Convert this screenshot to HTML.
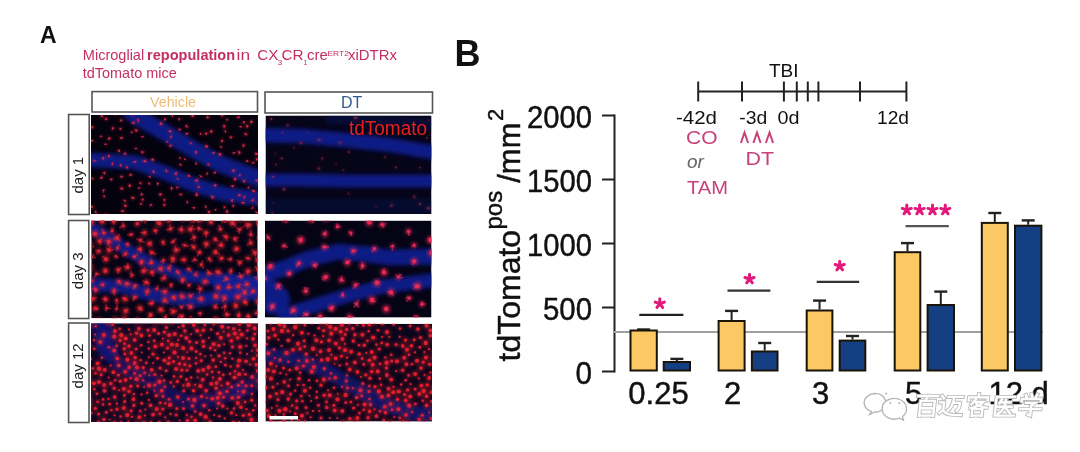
<!DOCTYPE html><html><head><meta charset="utf-8"><style>
html,body{margin:0;padding:0;background:#fff;width:1080px;height:452px;overflow:hidden}
svg{position:absolute;left:0;top:0;font-family:"Liberation Sans",sans-serif;filter:blur(0.35px)}
</style></head><body><svg width="1080" height="452" viewBox="0 0 1080 452"><defs><filter id="bl" filterUnits="userSpaceOnUse" x="0" y="80" width="460" height="372"><feGaussianBlur stdDeviation="2.2"/></filter><filter id="bs" filterUnits="userSpaceOnUse" x="0" y="80" width="460" height="372"><feGaussianBlur stdDeviation="0.7"/></filter><filter id="bh" filterUnits="userSpaceOnUse" x="0" y="80" width="460" height="372"><feGaussianBlur stdDeviation="1.8"/></filter><clipPath id="cv1"><rect x="91" y="115" width="167" height="99"/></clipPath><clipPath id="cd1"><rect x="265.5" y="115.5" width="166" height="98.5"/></clipPath><clipPath id="cv3"><rect x="91.3" y="220.6" width="166.4" height="97.7"/></clipPath><clipPath id="cd3"><rect x="265" y="220.6" width="166.5" height="97"/></clipPath><clipPath id="cv12"><rect x="91" y="323.3" width="167" height="98.7"/></clipPath><clipPath id="cd12"><rect x="265.5" y="323.8" width="166.5" height="97.7"/></clipPath></defs><g clip-path="url(#cv1)"><rect x="91" y="115" width="167" height="99" fill="#040208"/><rect x="91" y="115" width="167" height="99" fill="#1a20a0" opacity="0.04"/><path d="M128.0,108.0 135.0,115.5 165.4,133.0 193.5,149.5 219.3,163.6 262.0,180.0" fill="none" stroke="#121c98" stroke-width="17.0" stroke-opacity="0.855" stroke-linecap="round" stroke-linejoin="round" filter="url(#bl)"/><path d="M85.0,160.0 91.5,160.0 135.0,162.4 165.4,173.0 193.5,184.7 224.0,194.0 262.0,199.0" fill="none" stroke="#121c98" stroke-width="14.45" stroke-opacity="0.855" stroke-linecap="round" stroke-linejoin="round" filter="url(#bl)"/><g fill="#e02848" fill-opacity="0.35" filter="url(#bh)"><circle cx="166.4" cy="170.7" r="2.0"/><circle cx="247.0" cy="161.0" r="1.8"/><circle cx="175.8" cy="173.5" r="2.2"/><circle cx="120.6" cy="165.7" r="1.8"/><circle cx="196.7" cy="194.7" r="2.4"/><circle cx="105.1" cy="144.3" r="1.4"/><circle cx="104.5" cy="196.4" r="1.6"/><circle cx="207.6" cy="117.3" r="2.2"/><circle cx="257.0" cy="212.4" r="1.6"/><circle cx="200.8" cy="176.4" r="1.6"/><circle cx="115.9" cy="114.5" r="1.6"/><circle cx="179.4" cy="119.1" r="1.8"/><circle cx="121.5" cy="137.9" r="2.2"/><circle cx="94.1" cy="160.8" r="1.6"/><circle cx="164.3" cy="199.8" r="1.8"/><circle cx="177.8" cy="179.0" r="1.6"/><circle cx="167.2" cy="141.7" r="1.6"/><circle cx="232.7" cy="185.9" r="1.8"/><circle cx="142.9" cy="136.7" r="1.6"/><circle cx="138.4" cy="120.2" r="1.8"/><circle cx="220.0" cy="154.2" r="2.4"/><circle cx="233.8" cy="152.8" r="1.6"/><circle cx="252.8" cy="200.3" r="2.2"/><circle cx="89.1" cy="134.6" r="1.8"/><circle cx="256.6" cy="153.9" r="2.4"/><circle cx="101.5" cy="177.8" r="2.0"/><circle cx="222.1" cy="140.8" r="2.2"/><circle cx="253.9" cy="191.1" r="2.2"/><circle cx="109.2" cy="138.4" r="2.4"/><circle cx="106.3" cy="119.2" r="2.0"/><circle cx="225.3" cy="131.3" r="1.8"/><circle cx="184.6" cy="159.1" r="1.4"/><circle cx="121.6" cy="188.4" r="2.4"/><circle cx="111.4" cy="179.3" r="1.8"/><circle cx="108.9" cy="156.3" r="2.0"/><circle cx="141.0" cy="204.1" r="1.8"/><circle cx="125.0" cy="153.6" r="2.2"/><circle cx="235.1" cy="179.1" r="2.4"/><circle cx="106.2" cy="214.9" r="2.0"/><circle cx="221.1" cy="146.9" r="1.6"/><circle cx="104.4" cy="173.0" r="2.0"/><circle cx="130.6" cy="174.9" r="2.0"/><circle cx="152.6" cy="159.7" r="2.2"/><circle cx="253.0" cy="162.8" r="1.8"/><circle cx="187.3" cy="202.3" r="1.8"/><circle cx="120.3" cy="128.9" r="1.8"/><circle cx="244.3" cy="197.2" r="1.6"/><circle cx="131.7" cy="132.5" r="1.6"/><circle cx="215.4" cy="209.9" r="1.6"/><circle cx="122.6" cy="210.9" r="2.0"/><circle cx="239.9" cy="175.2" r="1.6"/><circle cx="161.1" cy="123.7" r="2.4"/><circle cx="95.6" cy="212.2" r="1.6"/><circle cx="129.8" cy="185.6" r="2.4"/><circle cx="132.9" cy="197.8" r="2.4"/><circle cx="191.0" cy="143.2" r="1.6"/><circle cx="100.8" cy="136.5" r="1.6"/><circle cx="245.9" cy="134.0" r="2.2"/><circle cx="91.8" cy="140.7" r="2.0"/><circle cx="165.2" cy="119.2" r="1.8"/><circle cx="119.1" cy="151.0" r="2.0"/><circle cx="186.8" cy="126.6" r="2.0"/><circle cx="150.9" cy="204.8" r="1.8"/><circle cx="256.7" cy="180.7" r="1.6"/><circle cx="207.2" cy="173.2" r="1.6"/><circle cx="92.1" cy="206.8" r="2.2"/><circle cx="208.9" cy="212.2" r="2.2"/><circle cx="92.6" cy="178.5" r="1.8"/><circle cx="171.5" cy="188.2" r="2.0"/><circle cx="143.5" cy="215.9" r="1.8"/><circle cx="215.0" cy="185.5" r="2.2"/><circle cx="224.6" cy="207.2" r="1.6"/><circle cx="149.2" cy="183.6" r="1.8"/><circle cx="243.0" cy="202.7" r="2.0"/><circle cx="160.3" cy="194.4" r="2.4"/><circle cx="195.9" cy="152.4" r="2.0"/><circle cx="188.6" cy="175.7" r="2.0"/><circle cx="258.9" cy="203.6" r="2.2"/><circle cx="213.5" cy="153.0" r="1.8"/><circle cx="214.7" cy="172.8" r="1.8"/><circle cx="103.3" cy="190.3" r="1.6"/><circle cx="171.2" cy="136.7" r="1.8"/><circle cx="208.4" cy="164.2" r="1.6"/><circle cx="194.1" cy="207.8" r="1.8"/><circle cx="132.7" cy="114.2" r="2.2"/><circle cx="140.5" cy="182.8" r="1.8"/><circle cx="243.9" cy="181.0" r="2.2"/><circle cx="164.6" cy="204.8" r="2.0"/><circle cx="239.5" cy="152.6" r="2.2"/><circle cx="112.3" cy="164.1" r="1.6"/><circle cx="232.1" cy="200.4" r="2.0"/><circle cx="136.3" cy="130.4" r="2.4"/><circle cx="196.0" cy="163.9" r="1.4"/><circle cx="142.9" cy="199.4" r="1.6"/><circle cx="256.9" cy="159.6" r="2.0"/><circle cx="101.8" cy="116.2" r="2.0"/><circle cx="238.3" cy="117.3" r="2.0"/><circle cx="141.8" cy="194.5" r="1.8"/><circle cx="92.3" cy="127.0" r="2.0"/><circle cx="230.9" cy="137.5" r="1.8"/><circle cx="196.7" cy="180.5" r="2.4"/><circle cx="227.1" cy="211.7" r="2.2"/><circle cx="206.0" cy="133.5" r="2.0"/><circle cx="170.2" cy="131.4" r="2.2"/><circle cx="211.1" cy="131.4" r="2.4"/><circle cx="135.6" cy="148.6" r="1.6"/><circle cx="244.0" cy="122.0" r="1.8"/><circle cx="248.5" cy="187.4" r="1.6"/><circle cx="153.4" cy="171.6" r="2.0"/><circle cx="239.4" cy="195.1" r="2.2"/><circle cx="200.4" cy="134.1" r="1.6"/><circle cx="212.5" cy="197.3" r="2.2"/><circle cx="198.7" cy="186.9" r="2.0"/><circle cx="125.5" cy="205.7" r="2.4"/><circle cx="180.8" cy="194.5" r="2.0"/><circle cx="103.2" cy="158.4" r="2.0"/><circle cx="172.4" cy="115.9" r="1.6"/><circle cx="227.4" cy="119.6" r="1.6"/><circle cx="113.0" cy="128.3" r="2.2"/><circle cx="177.3" cy="187.5" r="1.4"/><circle cx="251.3" cy="121.9" r="2.4"/><circle cx="126.9" cy="167.2" r="2.0"/><circle cx="138.6" cy="188.1" r="1.6"/><circle cx="233.3" cy="170.7" r="2.2"/><circle cx="142.3" cy="152.3" r="2.2"/><circle cx="233.5" cy="205.8" r="1.6"/><circle cx="124.6" cy="200.6" r="1.8"/><circle cx="187.0" cy="133.7" r="1.8"/><circle cx="180.6" cy="164.8" r="1.8"/><circle cx="192.5" cy="115.9" r="2.4"/><circle cx="252.6" cy="208.1" r="1.6"/><circle cx="135.0" cy="161.7" r="1.8"/><circle cx="170.5" cy="145.7" r="2.2"/><circle cx="121.7" cy="176.6" r="2.2"/><circle cx="247.2" cy="126.3" r="2.2"/><circle cx="222.3" cy="115.3" r="2.2"/><circle cx="206.5" cy="146.2" r="2.4"/><circle cx="149.8" cy="176.8" r="1.8"/><circle cx="179.7" cy="158.0" r="1.6"/><circle cx="179.5" cy="129.5" r="2.0"/><circle cx="243.4" cy="145.5" r="2.0"/><circle cx="126.3" cy="215.8" r="1.8"/><circle cx="240.8" cy="126.8" r="1.6"/><circle cx="133.4" cy="123.0" r="2.2"/><circle cx="224.1" cy="126.0" r="2.2"/><circle cx="157.9" cy="183.6" r="1.8"/><circle cx="205.7" cy="206.9" r="1.8"/><circle cx="121.3" cy="120.3" r="2.2"/><circle cx="232.7" cy="215.0" r="1.4"/><circle cx="144.9" cy="161.1" r="2.4"/></g><path d="M166.4,170.7l0.3,1.3M166.4,170.7l-0.6,-0.7M166.4,170.7l0.4,1.3M247.0,161.0l-0.9,0.6M247.0,161.0l0.8,1.3M247.0,161.0l2.0,0.2M175.8,173.5l1.5,-1.4M175.8,173.5l1.5,-0.6M175.8,173.5l0.6,1.5M175.8,173.5l-1.0,1.6M120.6,165.7l-0.1,-1.9M120.6,165.7l0.6,-1.3M196.7,194.7l-0.6,-1.8M196.7,194.7l0.1,-1.4M196.7,194.7l-0.2,-1.0M196.7,194.7l-0.8,1.3M105.1,144.3l2.0,-0.1M105.1,144.3l1.2,0.4M105.1,144.3l1.2,-0.3M104.5,196.4l-1.4,-0.7M104.5,196.4l-1.7,1.4M104.5,196.4l-1.1,-1.4M207.6,117.3l1.7,0.2M207.6,117.3l-0.1,-1.2M207.6,117.3l-0.8,0.6M207.6,117.3l0.5,1.3M257.0,212.4l-0.2,1.3M257.0,212.4l-1.4,-0.4M257.0,212.4l-1.9,-0.3M200.8,176.4l0.4,-0.9M200.8,176.4l-1.5,-1.1M200.8,176.4l2.0,0.6M115.9,114.5l1.9,-0.4M115.9,114.5l-1.6,-0.4M115.9,114.5l-1.4,0.7M179.4,119.1l-1.1,-0.8M179.4,119.1l-0.4,1.7M179.4,119.1l-1.2,-0.5M121.5,137.9l1.8,0.3M121.5,137.9l-1.5,-0.9M121.5,137.9l-1.5,1.0M94.1,160.8l-0.0,-1.0M94.1,160.8l2.1,-0.1M94.1,160.8l1.8,0.9M164.3,199.8l-0.0,1.9M164.3,199.8l1.0,0.3M164.3,199.8l0.8,-1.9M177.8,179.0l-0.8,-0.6M177.8,179.0l-1.0,-1.0M167.2,141.7l-0.7,0.9M167.2,141.7l-0.7,0.8M232.7,185.9l-0.1,1.6M232.7,185.9l-1.6,0.9M232.7,185.9l-2.1,-0.4M232.7,185.9l1.7,-0.5M142.9,136.7l-1.3,-0.0M142.9,136.7l-2.0,-0.1M138.4,120.2l-0.6,-1.5M138.4,120.2l-1.4,-0.9M138.4,120.2l0.0,-1.1M138.4,120.2l0.0,2.1M220.0,154.2l0.9,0.2M220.0,154.2l-0.2,1.4M220.0,154.2l-0.7,-0.7M220.0,154.2l-1.0,-0.3M233.8,152.8l0.6,1.0M233.8,152.8l1.5,-0.2M233.8,152.8l-0.8,1.1M233.8,152.8l-1.1,0.0M252.8,200.3l-1.8,0.6M252.8,200.3l1.0,-1.6M89.1,134.6l-0.1,1.9M89.1,134.6l-1.2,1.3M89.1,134.6l1.3,-0.1M89.1,134.6l-1.8,-0.6M256.6,153.9l-0.9,-1.3M256.6,153.9l-1.3,0.3M256.6,153.9l-1.4,-0.4M101.5,177.8l-1.9,0.4M101.5,177.8l1.3,0.1M101.5,177.8l1.4,-0.9M101.5,177.8l-0.5,-1.4M222.1,140.8l-0.2,1.1M222.1,140.8l-1.1,1.4M222.1,140.8l-0.7,0.8M253.9,191.1l-1.7,-1.1M253.9,191.1l-0.5,-1.2M253.9,191.1l-2.1,-0.4M253.9,191.1l-1.1,0.3M109.2,138.4l1.0,-0.7M109.2,138.4l-0.9,1.0M109.2,138.4l-0.9,1.1M109.2,138.4l-0.9,0.7M106.3,119.2l-1.9,-0.5M106.3,119.2l-1.0,-0.4M106.3,119.2l0.1,-2.0M225.3,131.3l0.2,1.0M225.3,131.3l0.7,1.1M184.6,159.1l1.5,0.6M184.6,159.1l0.2,-1.0M184.6,159.1l1.6,0.9M121.6,188.4l1.7,0.3M121.6,188.4l1.6,1.1M111.4,179.3l0.3,1.8M111.4,179.3l-1.8,-0.3M111.4,179.3l-1.0,0.8M111.4,179.3l1.7,-0.3M108.9,156.3l0.3,-0.9M108.9,156.3l-0.7,-0.6M108.9,156.3l0.1,-2.1M108.9,156.3l-0.5,0.7M141.0,204.1l1.6,-1.4M141.0,204.1l-1.0,-1.2M125.0,153.6l-1.3,0.7M125.0,153.6l1.1,1.5M235.1,179.1l-0.5,-1.2M235.1,179.1l-1.2,1.0M235.1,179.1l-0.3,2.0M106.2,214.9l1.3,1.1M106.2,214.9l0.2,-1.1M106.2,214.9l1.4,0.6M106.2,214.9l-1.8,-1.0M221.1,146.9l0.4,1.3M221.1,146.9l-1.4,-0.9M104.4,173.0l0.2,1.1M104.4,173.0l-0.2,1.1M104.4,173.0l0.1,-1.3M104.4,173.0l-1.8,-0.6M130.6,174.9l-1.4,0.1M130.6,174.9l1.7,-0.5M130.6,174.9l0.1,-1.0M152.6,159.7l2.0,0.6M152.6,159.7l0.4,-1.3M152.6,159.7l-1.5,-0.3M253.0,162.8l-0.7,-1.0M253.0,162.8l1.5,0.1M187.3,202.3l-0.4,-1.6M187.3,202.3l0.6,0.9M120.3,128.9l1.6,-1.0M120.3,128.9l1.2,1.3M120.3,128.9l-1.1,-1.1M244.3,197.2l0.1,-0.9M244.3,197.2l0.9,-1.8M244.3,197.2l0.4,-0.9M244.3,197.2l-0.2,1.8M131.7,132.5l-0.3,-0.9M131.7,132.5l-0.0,-1.6M131.7,132.5l-0.9,-0.0M215.4,209.9l0.9,-0.5M215.4,209.9l0.5,-1.0M122.6,210.9l-2.1,0.1M122.6,210.9l1.3,-0.3M122.6,210.9l-1.3,0.9M122.6,210.9l1.7,-0.0M239.9,175.2l-0.4,-1.0M239.9,175.2l-1.2,0.9M161.1,123.7l-0.5,-0.8M161.1,123.7l-1.3,1.3M95.6,212.2l1.4,1.2M95.6,212.2l1.2,-1.5M95.6,212.2l-0.4,-2.0M95.6,212.2l1.0,1.4M129.8,185.6l-0.4,1.3M129.8,185.6l-1.4,1.1M129.8,185.6l-0.0,1.2M129.8,185.6l-0.2,-1.3M132.9,197.8l-1.7,0.3M132.9,197.8l-1.3,0.5M132.9,197.8l1.4,1.0M132.9,197.8l1.1,1.2M191.0,143.2l-1.6,1.1M191.0,143.2l-0.8,-0.6M100.8,136.5l1.4,-0.1M100.8,136.5l0.2,-1.3M245.9,134.0l0.7,0.9M245.9,134.0l1.1,1.4M245.9,134.0l-2.0,0.2M245.9,134.0l-1.3,-1.3M91.8,140.7l1.9,-0.2M91.8,140.7l-0.9,-1.4M91.8,140.7l1.3,0.2M165.2,119.2l-1.5,0.6M165.2,119.2l0.4,1.3M165.2,119.2l-0.3,1.0M165.2,119.2l-0.3,-1.2M119.1,151.0l-1.3,-0.4M119.1,151.0l-1.1,-0.0M119.1,151.0l-0.5,-2.1M186.8,126.6l-0.6,-2.0M186.8,126.6l-0.9,-0.4M186.8,126.6l-1.0,-1.6M186.8,126.6l1.0,1.1M150.9,204.8l-1.0,1.8M150.9,204.8l-1.0,1.1M150.9,204.8l1.5,1.5M256.7,180.7l-1.5,-0.4M256.7,180.7l-1.1,-0.5M256.7,180.7l1.8,-1.2M256.7,180.7l0.7,-1.5M207.2,173.2l-0.5,2.0M207.2,173.2l0.1,1.6M92.1,206.8l-1.6,-1.1M92.1,206.8l-1.4,0.4M208.9,212.2l1.2,1.4M208.9,212.2l1.2,-1.7M208.9,212.2l-1.3,-1.1M208.9,212.2l0.1,-1.1M92.6,178.5l0.9,1.1M92.6,178.5l-1.0,-0.5M171.5,188.2l0.1,2.1M171.5,188.2l1.8,0.6M171.5,188.2l-0.3,-1.9M143.5,215.9l-1.2,-0.9M143.5,215.9l-1.4,0.9M143.5,215.9l-0.7,-1.7M215.0,185.5l1.1,-1.0M215.0,185.5l1.5,-1.0M215.0,185.5l0.5,-0.9M224.6,207.2l-0.8,1.4M224.6,207.2l-0.8,0.4M224.6,207.2l1.1,-0.7M224.6,207.2l-1.1,-1.0M149.2,183.6l0.0,-1.3M149.2,183.6l-0.8,-0.5M149.2,183.6l1.0,1.0M243.0,202.7l1.5,-0.3M243.0,202.7l1.6,1.3M243.0,202.7l-1.7,-0.5M160.3,194.4l1.8,-0.0M160.3,194.4l0.9,-1.0M195.9,152.4l0.4,-1.1M195.9,152.4l-0.0,-1.6M195.9,152.4l0.8,-0.6M195.9,152.4l0.3,-1.0M188.6,175.7l1.2,0.0M188.6,175.7l-0.4,1.2M188.6,175.7l1.9,0.8M258.9,203.6l1.1,1.4M258.9,203.6l0.2,1.3M258.9,203.6l-1.2,0.4M213.5,153.0l2.0,-0.9M213.5,153.0l-1.1,0.2M214.7,172.8l0.9,-0.7M214.7,172.8l0.7,-1.1M214.7,172.8l-1.1,0.2M214.7,172.8l1.6,-1.5M103.3,190.3l0.2,2.1M103.3,190.3l1.7,-0.3M103.3,190.3l-0.7,1.8M103.3,190.3l1.2,-0.3M171.2,136.7l-1.1,1.8M171.2,136.7l0.3,-1.4M208.4,164.2l1.3,1.2M208.4,164.2l-0.2,1.8M208.4,164.2l-1.3,-0.0M194.1,207.8l-1.0,-0.2M194.1,207.8l-2.1,-0.2M194.1,207.8l0.9,-0.7M194.1,207.8l0.2,1.1M132.7,114.2l1.4,-0.2M132.7,114.2l-1.5,-0.3M132.7,114.2l1.6,0.5M140.5,182.8l-1.4,0.7M140.5,182.8l1.1,1.8M140.5,182.8l0.4,1.0M243.9,181.0l0.8,1.9M243.9,181.0l0.9,-0.1M164.6,204.8l-1.6,1.4M164.6,204.8l-1.1,0.0M164.6,204.8l-1.6,-0.6M164.6,204.8l-1.1,1.3M239.5,152.6l-0.5,1.9M239.5,152.6l-1.4,-1.6M239.5,152.6l-0.1,-1.6M239.5,152.6l-1.6,-1.0M112.3,164.1l0.1,1.4M112.3,164.1l0.3,-1.9M112.3,164.1l0.3,-1.2M232.1,200.4l1.0,-1.3M232.1,200.4l-0.1,1.2M136.3,130.4l-1.8,-0.9M136.3,130.4l0.5,1.0M196.0,163.9l0.5,-1.4M196.0,163.9l-0.3,-2.0M196.0,163.9l1.0,0.2M142.9,199.4l-1.8,-0.5M142.9,199.4l0.1,1.1M142.9,199.4l-0.4,0.9M142.9,199.4l-0.7,1.5M256.9,159.6l0.1,-1.5M256.9,159.6l-0.9,-1.2M256.9,159.6l-0.9,0.8M101.8,116.2l0.9,-1.7M101.8,116.2l1.3,0.5M101.8,116.2l-0.8,0.9M101.8,116.2l0.9,-0.2M238.3,117.3l1.1,-0.1M238.3,117.3l-1.8,0.5M238.3,117.3l1.2,0.3M238.3,117.3l0.8,-0.7M141.8,194.5l-2.0,0.4M141.8,194.5l1.7,-0.3M141.8,194.5l-0.4,-2.1M92.3,127.0l-0.0,1.6M92.3,127.0l0.1,1.5M92.3,127.0l1.2,-0.6M230.9,137.5l0.2,1.1M230.9,137.5l-1.9,-1.1M230.9,137.5l-0.1,-1.6M230.9,137.5l1.7,-1.1M196.7,180.5l-1.4,0.3M196.7,180.5l0.8,-1.2M227.1,211.7l-1.1,0.6M227.1,211.7l0.5,-1.8M206.0,133.5l0.3,1.5M206.0,133.5l-0.5,1.4M206.0,133.5l1.8,-0.1M170.2,131.4l-1.4,-0.4M170.2,131.4l1.2,0.4M211.1,131.4l1.1,0.1M211.1,131.4l-0.1,1.4M211.1,131.4l1.6,-0.8M211.1,131.4l-0.2,1.3M135.6,148.6l0.8,0.9M135.6,148.6l0.6,-0.9M135.6,148.6l2.0,-0.0M244.0,122.0l-0.9,1.7M244.0,122.0l-1.0,-0.1M244.0,122.0l-0.9,0.7M248.5,187.4l-1.1,-0.1M248.5,187.4l0.4,1.4M153.4,171.6l1.2,1.4M153.4,171.6l-0.1,1.8M153.4,171.6l-0.5,-0.9M153.4,171.6l0.4,1.2M239.4,195.1l1.0,1.2M239.4,195.1l-0.6,0.8M239.4,195.1l-1.1,1.2M200.4,134.1l-0.0,-1.5M200.4,134.1l1.9,0.1M212.5,197.3l-1.0,-1.8M212.5,197.3l0.4,1.7M212.5,197.3l-1.1,-1.8M212.5,197.3l0.8,-0.9M198.7,186.9l0.3,-1.0M198.7,186.9l-1.5,0.1M125.5,205.7l-1.3,0.0M125.5,205.7l0.8,1.2M125.5,205.7l-1.1,0.2M180.8,194.5l-1.8,-0.2M180.8,194.5l1.6,-1.1M103.2,158.4l-0.5,-1.5M103.2,158.4l-0.3,-0.9M103.2,158.4l-1.1,0.9M172.4,115.9l-0.2,1.4M172.4,115.9l0.7,-1.0M172.4,115.9l-0.4,-2.0M227.4,119.6l-1.2,1.7M227.4,119.6l-1.1,-0.5M113.0,128.3l-0.9,-1.1M113.0,128.3l-1.1,1.7M177.3,187.5l1.8,-0.7M177.3,187.5l-1.2,-1.2M177.3,187.5l-1.2,0.8M177.3,187.5l-0.3,1.9M251.3,121.9l1.4,-0.3M251.3,121.9l0.6,-1.7M251.3,121.9l-0.2,1.5M126.9,167.2l0.7,0.9M126.9,167.2l0.2,1.7M138.6,188.1l1.9,-1.0M138.6,188.1l1.6,0.0M233.3,170.7l1.7,0.9M233.3,170.7l1.3,-1.2M233.3,170.7l0.4,-1.2M233.3,170.7l0.7,0.6M142.3,152.3l-0.6,-1.7M142.3,152.3l1.9,-0.4M233.5,205.8l-0.7,-1.8M233.5,205.8l-0.4,1.4M233.5,205.8l-1.2,1.3M233.5,205.8l-1.7,0.0M124.6,200.6l0.7,1.4M124.6,200.6l0.7,0.7M124.6,200.6l0.9,0.4M124.6,200.6l-0.3,-1.0M187.0,133.7l-1.1,0.1M187.0,133.7l1.3,-1.5M187.0,133.7l1.2,0.4M187.0,133.7l-1.9,-0.1M180.6,164.8l-0.9,-1.0M180.6,164.8l-0.5,-1.0M180.6,164.8l0.7,-0.9M180.6,164.8l-1.0,-0.4M192.5,115.9l-0.5,-1.6M192.5,115.9l0.9,-1.7M192.5,115.9l1.0,1.0M192.5,115.9l-0.6,-1.0M252.6,208.1l-1.7,0.3M252.6,208.1l0.5,-2.0M135.0,161.7l-1.5,0.8M135.0,161.7l-1.7,1.3M135.0,161.7l1.0,-0.1M170.5,145.7l0.8,-0.8M170.5,145.7l-1.0,1.2M121.7,176.6l-0.4,0.8M121.7,176.6l-1.5,-0.4M121.7,176.6l-0.9,0.9M247.2,126.3l-0.3,1.4M247.2,126.3l-1.4,-1.3M247.2,126.3l1.4,-0.2M247.2,126.3l-0.5,-1.5M222.3,115.3l-1.8,0.7M222.3,115.3l-1.9,-0.7M206.5,146.2l1.0,0.9M206.5,146.2l1.6,0.2M206.5,146.2l1.0,1.3M149.8,176.8l1.0,0.6M149.8,176.8l-1.5,-0.5M179.7,158.0l1.0,-0.8M179.7,158.0l1.0,0.5M179.5,129.5l1.4,-0.1M179.5,129.5l1.3,0.3M243.4,145.5l1.5,0.6M243.4,145.5l-0.9,-1.4M243.4,145.5l-0.4,2.1M243.4,145.5l1.4,-1.6M126.3,215.8l1.9,0.6M126.3,215.8l1.5,-0.5M126.3,215.8l-0.6,-1.1M126.3,215.8l1.6,0.2M240.8,126.8l1.2,0.1M240.8,126.8l0.9,-0.2M240.8,126.8l-1.9,-0.3M133.4,123.0l-1.3,0.0M133.4,123.0l-1.7,-0.3M133.4,123.0l0.6,-1.8M133.4,123.0l1.4,-0.6M224.1,126.0l-0.0,2.0M224.1,126.0l1.6,0.2M224.1,126.0l0.2,1.4M157.9,183.6l-0.4,2.1M157.9,183.6l-1.0,-1.0M157.9,183.6l-0.4,0.9M157.9,183.6l-0.9,-1.4M205.7,206.9l-0.1,-1.2M205.7,206.9l-0.1,-1.6M121.3,120.3l-0.6,0.9M121.3,120.3l-0.8,0.8M232.7,215.0l-1.4,-0.0M232.7,215.0l-0.7,1.4M232.7,215.0l1.1,-0.3M144.9,161.1l1.5,0.7M144.9,161.1l-1.1,-0.6M144.9,161.1l-2.1,0.3" stroke="#e02848" stroke-opacity="0.51" stroke-width="0.9" stroke-linecap="round" fill="none" filter="url(#bs)"/><g fill="#e02848" fill-opacity="0.85" filter="url(#bs)"><circle cx="166.4" cy="170.7" r="1.0"/><circle cx="247.0" cy="161.0" r="0.9"/><circle cx="175.8" cy="173.5" r="1.1"/><circle cx="120.6" cy="165.7" r="0.9"/><circle cx="196.7" cy="194.7" r="1.2"/><circle cx="105.1" cy="144.3" r="0.7"/><circle cx="104.5" cy="196.4" r="0.8"/><circle cx="207.6" cy="117.3" r="1.1"/><circle cx="257.0" cy="212.4" r="0.8"/><circle cx="200.8" cy="176.4" r="0.8"/><circle cx="115.9" cy="114.5" r="0.8"/><circle cx="179.4" cy="119.1" r="0.9"/><circle cx="121.5" cy="137.9" r="1.1"/><circle cx="94.1" cy="160.8" r="0.8"/><circle cx="164.3" cy="199.8" r="0.9"/><circle cx="177.8" cy="179.0" r="0.8"/><circle cx="167.2" cy="141.7" r="0.8"/><circle cx="232.7" cy="185.9" r="0.9"/><circle cx="142.9" cy="136.7" r="0.8"/><circle cx="138.4" cy="120.2" r="0.9"/><circle cx="220.0" cy="154.2" r="1.2"/><circle cx="233.8" cy="152.8" r="0.8"/><circle cx="252.8" cy="200.3" r="1.1"/><circle cx="89.1" cy="134.6" r="0.9"/><circle cx="256.6" cy="153.9" r="1.2"/><circle cx="101.5" cy="177.8" r="1.0"/><circle cx="222.1" cy="140.8" r="1.1"/><circle cx="253.9" cy="191.1" r="1.1"/><circle cx="109.2" cy="138.4" r="1.2"/><circle cx="106.3" cy="119.2" r="1.0"/><circle cx="225.3" cy="131.3" r="0.9"/><circle cx="184.6" cy="159.1" r="0.7"/><circle cx="121.6" cy="188.4" r="1.2"/><circle cx="111.4" cy="179.3" r="0.9"/><circle cx="108.9" cy="156.3" r="1.0"/><circle cx="141.0" cy="204.1" r="0.9"/><circle cx="125.0" cy="153.6" r="1.1"/><circle cx="235.1" cy="179.1" r="1.2"/><circle cx="106.2" cy="214.9" r="1.0"/><circle cx="221.1" cy="146.9" r="0.8"/><circle cx="104.4" cy="173.0" r="1.0"/><circle cx="130.6" cy="174.9" r="1.0"/><circle cx="152.6" cy="159.7" r="1.1"/><circle cx="253.0" cy="162.8" r="0.9"/><circle cx="187.3" cy="202.3" r="0.9"/><circle cx="120.3" cy="128.9" r="0.9"/><circle cx="244.3" cy="197.2" r="0.8"/><circle cx="131.7" cy="132.5" r="0.8"/><circle cx="215.4" cy="209.9" r="0.8"/><circle cx="122.6" cy="210.9" r="1.0"/><circle cx="239.9" cy="175.2" r="0.8"/><circle cx="161.1" cy="123.7" r="1.2"/><circle cx="95.6" cy="212.2" r="0.8"/><circle cx="129.8" cy="185.6" r="1.2"/><circle cx="132.9" cy="197.8" r="1.2"/><circle cx="191.0" cy="143.2" r="0.8"/><circle cx="100.8" cy="136.5" r="0.8"/><circle cx="245.9" cy="134.0" r="1.1"/><circle cx="91.8" cy="140.7" r="1.0"/><circle cx="165.2" cy="119.2" r="0.9"/><circle cx="119.1" cy="151.0" r="1.0"/><circle cx="186.8" cy="126.6" r="1.0"/><circle cx="150.9" cy="204.8" r="0.9"/><circle cx="256.7" cy="180.7" r="0.8"/><circle cx="207.2" cy="173.2" r="0.8"/><circle cx="92.1" cy="206.8" r="1.1"/><circle cx="208.9" cy="212.2" r="1.1"/><circle cx="92.6" cy="178.5" r="0.9"/><circle cx="171.5" cy="188.2" r="1.0"/><circle cx="143.5" cy="215.9" r="0.9"/><circle cx="215.0" cy="185.5" r="1.1"/><circle cx="224.6" cy="207.2" r="0.8"/><circle cx="149.2" cy="183.6" r="0.9"/><circle cx="243.0" cy="202.7" r="1.0"/><circle cx="160.3" cy="194.4" r="1.2"/><circle cx="195.9" cy="152.4" r="1.0"/><circle cx="188.6" cy="175.7" r="1.0"/><circle cx="258.9" cy="203.6" r="1.1"/><circle cx="213.5" cy="153.0" r="0.9"/><circle cx="214.7" cy="172.8" r="0.9"/><circle cx="103.3" cy="190.3" r="0.8"/><circle cx="171.2" cy="136.7" r="0.9"/><circle cx="208.4" cy="164.2" r="0.8"/><circle cx="194.1" cy="207.8" r="0.9"/><circle cx="132.7" cy="114.2" r="1.1"/><circle cx="140.5" cy="182.8" r="0.9"/><circle cx="243.9" cy="181.0" r="1.1"/><circle cx="164.6" cy="204.8" r="1.0"/><circle cx="239.5" cy="152.6" r="1.1"/><circle cx="112.3" cy="164.1" r="0.8"/><circle cx="232.1" cy="200.4" r="1.0"/><circle cx="136.3" cy="130.4" r="1.2"/><circle cx="196.0" cy="163.9" r="0.7"/><circle cx="142.9" cy="199.4" r="0.8"/><circle cx="256.9" cy="159.6" r="1.0"/><circle cx="101.8" cy="116.2" r="1.0"/><circle cx="238.3" cy="117.3" r="1.0"/><circle cx="141.8" cy="194.5" r="0.9"/><circle cx="92.3" cy="127.0" r="1.0"/><circle cx="230.9" cy="137.5" r="0.9"/><circle cx="196.7" cy="180.5" r="1.2"/><circle cx="227.1" cy="211.7" r="1.1"/><circle cx="206.0" cy="133.5" r="1.0"/><circle cx="170.2" cy="131.4" r="1.1"/><circle cx="211.1" cy="131.4" r="1.2"/><circle cx="135.6" cy="148.6" r="0.8"/><circle cx="244.0" cy="122.0" r="0.9"/><circle cx="248.5" cy="187.4" r="0.8"/><circle cx="153.4" cy="171.6" r="1.0"/><circle cx="239.4" cy="195.1" r="1.1"/><circle cx="200.4" cy="134.1" r="0.8"/><circle cx="212.5" cy="197.3" r="1.1"/><circle cx="198.7" cy="186.9" r="1.0"/><circle cx="125.5" cy="205.7" r="1.2"/><circle cx="180.8" cy="194.5" r="1.0"/><circle cx="103.2" cy="158.4" r="1.0"/><circle cx="172.4" cy="115.9" r="0.8"/><circle cx="227.4" cy="119.6" r="0.8"/><circle cx="113.0" cy="128.3" r="1.1"/><circle cx="177.3" cy="187.5" r="0.7"/><circle cx="251.3" cy="121.9" r="1.2"/><circle cx="126.9" cy="167.2" r="1.0"/><circle cx="138.6" cy="188.1" r="0.8"/><circle cx="233.3" cy="170.7" r="1.1"/><circle cx="142.3" cy="152.3" r="1.1"/><circle cx="233.5" cy="205.8" r="0.8"/><circle cx="124.6" cy="200.6" r="0.9"/><circle cx="187.0" cy="133.7" r="0.9"/><circle cx="180.6" cy="164.8" r="0.9"/><circle cx="192.5" cy="115.9" r="1.2"/><circle cx="252.6" cy="208.1" r="0.8"/><circle cx="135.0" cy="161.7" r="0.9"/><circle cx="170.5" cy="145.7" r="1.1"/><circle cx="121.7" cy="176.6" r="1.1"/><circle cx="247.2" cy="126.3" r="1.1"/><circle cx="222.3" cy="115.3" r="1.1"/><circle cx="206.5" cy="146.2" r="1.2"/><circle cx="149.8" cy="176.8" r="0.9"/><circle cx="179.7" cy="158.0" r="0.8"/><circle cx="179.5" cy="129.5" r="1.0"/><circle cx="243.4" cy="145.5" r="1.0"/><circle cx="126.3" cy="215.8" r="0.9"/><circle cx="240.8" cy="126.8" r="0.8"/><circle cx="133.4" cy="123.0" r="1.1"/><circle cx="224.1" cy="126.0" r="1.1"/><circle cx="157.9" cy="183.6" r="0.9"/><circle cx="205.7" cy="206.9" r="0.9"/><circle cx="121.3" cy="120.3" r="1.1"/><circle cx="232.7" cy="215.0" r="0.7"/><circle cx="144.9" cy="161.1" r="1.2"/></g></g><g clip-path="url(#cd1)"><rect x="265.5" y="115.5" width="166" height="98.5" fill="#040208"/><rect x="265.5" y="115.5" width="166" height="98.5" fill="#1a20a0" opacity="0.1"/><path d="M330.0,119.0 436.0,124.0" fill="none" stroke="#121c98" stroke-width="11.200000000000001" stroke-opacity="0.225" stroke-linecap="round" stroke-linejoin="round" filter="url(#bl)"/><path d="M258.0,206.0 436.0,206.0" fill="none" stroke="#121c98" stroke-width="16.0" stroke-opacity="0.18000000000000002" stroke-linecap="round" stroke-linejoin="round" filter="url(#bl)"/><path d="M258.0,135.0 300.0,136.0 345.0,140.0 390.0,145.0 436.0,153.0" fill="none" stroke="#121c98" stroke-width="14.4" stroke-opacity="0.855" stroke-linecap="round" stroke-linejoin="round" filter="url(#bl)"/><path d="M258.0,180.0 300.0,180.0 345.0,181.0 390.0,181.0 436.0,181.0" fill="none" stroke="#121c98" stroke-width="12.8" stroke-opacity="0.855" stroke-linecap="round" stroke-linejoin="round" filter="url(#bl)"/><g fill="#a82848" fill-opacity="0.3" filter="url(#bh)"><circle cx="348.4" cy="193.5" r="1.6"/><circle cx="414.4" cy="196.8" r="2.0"/><circle cx="275.4" cy="153.5" r="1.2"/><circle cx="420.1" cy="203.9" r="2.0"/><circle cx="395.7" cy="167.3" r="1.8"/><circle cx="265.2" cy="188.3" r="1.8"/><circle cx="376.1" cy="206.9" r="1.2"/><circle cx="272.9" cy="176.7" r="2.0"/><circle cx="322.1" cy="158.5" r="1.8"/><circle cx="385.0" cy="157.0" r="1.6"/><circle cx="428.3" cy="208.3" r="2.4"/><circle cx="284.1" cy="189.2" r="2.4"/><circle cx="348.8" cy="152.0" r="1.8"/><circle cx="355.5" cy="117.9" r="2.6"/><circle cx="419.9" cy="167.6" r="1.6"/><circle cx="340.3" cy="142.6" r="2.2"/><circle cx="271.3" cy="119.1" r="2.0"/><circle cx="318.7" cy="168.5" r="2.2"/><circle cx="319.3" cy="139.7" r="2.4"/><circle cx="369.4" cy="132.8" r="2.0"/><circle cx="343.2" cy="170.0" r="1.4"/><circle cx="272.4" cy="212.7" r="1.4"/><circle cx="391.5" cy="205.5" r="2.2"/><circle cx="282.4" cy="132.7" r="1.4"/><circle cx="287.7" cy="125.2" r="2.0"/><circle cx="308.0" cy="132.5" r="1.2"/><circle cx="298.8" cy="115.0" r="1.4"/><circle cx="336.1" cy="163.6" r="1.4"/><circle cx="427.0" cy="137.9" r="1.6"/><circle cx="281.7" cy="158.6" r="2.0"/><circle cx="275.8" cy="164.4" r="1.6"/><circle cx="273.0" cy="202.7" r="1.0"/><circle cx="428.9" cy="120.2" r="1.2"/><circle cx="293.9" cy="147.7" r="1.4"/><circle cx="300.8" cy="143.1" r="2.2"/></g><g fill="#a82848" fill-opacity="0.6" filter="url(#bs)"><circle cx="348.4" cy="193.5" r="0.8"/><circle cx="414.4" cy="196.8" r="1.0"/><circle cx="275.4" cy="153.5" r="0.6"/><circle cx="420.1" cy="203.9" r="1.0"/><circle cx="395.7" cy="167.3" r="0.9"/><circle cx="265.2" cy="188.3" r="0.9"/><circle cx="376.1" cy="206.9" r="0.6"/><circle cx="272.9" cy="176.7" r="1.0"/><circle cx="322.1" cy="158.5" r="0.9"/><circle cx="385.0" cy="157.0" r="0.8"/><circle cx="428.3" cy="208.3" r="1.2"/><circle cx="284.1" cy="189.2" r="1.2"/><circle cx="348.8" cy="152.0" r="0.9"/><circle cx="355.5" cy="117.9" r="1.3"/><circle cx="419.9" cy="167.6" r="0.8"/><circle cx="340.3" cy="142.6" r="1.1"/><circle cx="271.3" cy="119.1" r="1.0"/><circle cx="318.7" cy="168.5" r="1.1"/><circle cx="319.3" cy="139.7" r="1.2"/><circle cx="369.4" cy="132.8" r="1.0"/><circle cx="343.2" cy="170.0" r="0.7"/><circle cx="272.4" cy="212.7" r="0.7"/><circle cx="391.5" cy="205.5" r="1.1"/><circle cx="282.4" cy="132.7" r="0.7"/><circle cx="287.7" cy="125.2" r="1.0"/><circle cx="308.0" cy="132.5" r="0.6"/><circle cx="298.8" cy="115.0" r="0.7"/><circle cx="336.1" cy="163.6" r="0.7"/><circle cx="427.0" cy="137.9" r="0.8"/><circle cx="281.7" cy="158.6" r="1.0"/><circle cx="275.8" cy="164.4" r="0.8"/><circle cx="273.0" cy="202.7" r="0.5"/><circle cx="428.9" cy="120.2" r="0.6"/><circle cx="293.9" cy="147.7" r="0.7"/><circle cx="300.8" cy="143.1" r="1.1"/></g></g><g clip-path="url(#cv3)"><rect x="91.3" y="220.6" width="166.4" height="97.7" fill="#040208"/><rect x="91.3" y="220.6" width="166.4" height="97.7" fill="#1a20a0" opacity="0.08"/><path d="M85.0,225.0 97.3,231.0 122.8,247.2 150.7,263.5 180.9,275.0 215.8,279.7 262.0,284.4" fill="none" stroke="#121c98" stroke-width="12.0" stroke-opacity="0.855" stroke-linecap="round" stroke-linejoin="round" filter="url(#bl)"/><path d="M85.0,284.0 122.8,286.7 157.7,296.0 192.5,300.6 227.4,296.0 262.0,291.3" fill="none" stroke="#121c98" stroke-width="13.600000000000001" stroke-opacity="0.855" stroke-linecap="round" stroke-linejoin="round" filter="url(#bl)"/><path d="M225.0,285.0 262.0,288.0" fill="none" stroke="#121c98" stroke-width="22.400000000000002" stroke-opacity="0.855" stroke-linecap="round" stroke-linejoin="round" filter="url(#bl)"/><g fill="#e82434" fill-opacity="0.5" filter="url(#bh)"><circle cx="237.6" cy="296.9" r="4.0"/><circle cx="123.4" cy="225.9" r="2.8"/><circle cx="134.6" cy="256.7" r="2.8"/><circle cx="193.7" cy="247.0" r="3.6"/><circle cx="112.1" cy="231.2" r="2.8"/><circle cx="105.5" cy="270.9" r="4.0"/><circle cx="160.5" cy="268.7" r="3.8"/><circle cx="238.7" cy="315.4" r="3.6"/><circle cx="102.6" cy="284.5" r="3.0"/><circle cx="127.7" cy="267.2" r="3.8"/><circle cx="126.9" cy="283.7" r="3.8"/><circle cx="151.8" cy="252.5" r="3.2"/><circle cx="188.9" cy="285.6" r="2.6"/><circle cx="134.9" cy="285.9" r="3.2"/><circle cx="91.5" cy="280.7" r="3.2"/><circle cx="91.9" cy="256.7" r="2.6"/><circle cx="190.4" cy="306.7" r="3.8"/><circle cx="106.7" cy="308.1" r="2.6"/><circle cx="220.3" cy="229.2" r="3.2"/><circle cx="201.3" cy="264.7" r="2.8"/><circle cx="125.0" cy="299.0" r="4.0"/><circle cx="92.1" cy="221.7" r="3.2"/><circle cx="258.0" cy="301.6" r="3.8"/><circle cx="238.1" cy="286.5" r="3.6"/><circle cx="118.3" cy="270.0" r="3.6"/><circle cx="171.0" cy="284.9" r="2.6"/><circle cx="99.7" cy="241.2" r="3.8"/><circle cx="92.9" cy="298.9" r="3.8"/><circle cx="163.1" cy="242.0" r="3.0"/><circle cx="181.5" cy="229.8" r="3.6"/><circle cx="99.1" cy="320.3" r="3.4"/><circle cx="201.1" cy="299.0" r="3.8"/><circle cx="248.1" cy="271.3" r="4.0"/><circle cx="188.9" cy="269.2" r="3.0"/><circle cx="230.8" cy="271.0" r="3.2"/><circle cx="105.6" cy="299.4" r="3.8"/><circle cx="89.9" cy="316.1" r="2.6"/><circle cx="239.9" cy="262.7" r="3.2"/><circle cx="115.8" cy="256.3" r="2.6"/><circle cx="151.7" cy="303.2" r="3.6"/><circle cx="239.6" cy="229.7" r="2.8"/><circle cx="176.2" cy="250.0" r="4.0"/><circle cx="149.4" cy="243.6" r="3.8"/><circle cx="258.0" cy="278.5" r="2.8"/><circle cx="118.9" cy="281.5" r="3.6"/><circle cx="253.5" cy="291.1" r="3.2"/><circle cx="194.7" cy="259.8" r="2.6"/><circle cx="173.4" cy="311.4" r="4.0"/><circle cx="181.9" cy="296.1" r="3.8"/><circle cx="221.5" cy="258.2" r="3.4"/><circle cx="140.3" cy="240.4" r="2.8"/><circle cx="160.7" cy="309.7" r="4.0"/><circle cx="124.0" cy="319.6" r="4.0"/><circle cx="256.6" cy="312.9" r="2.8"/><circle cx="199.8" cy="252.6" r="3.0"/><circle cx="109.2" cy="250.2" r="3.8"/><circle cx="228.8" cy="287.3" r="3.2"/><circle cx="210.8" cy="221.9" r="3.6"/><circle cx="150.6" cy="315.3" r="3.6"/><circle cx="177.9" cy="272.2" r="2.8"/><circle cx="190.4" cy="229.3" r="4.0"/><circle cx="226.9" cy="314.6" r="3.6"/><circle cx="105.9" cy="258.9" r="4.0"/><circle cx="127.7" cy="244.1" r="2.6"/><circle cx="94.8" cy="233.8" r="4.2"/><circle cx="137.4" cy="320.3" r="3.2"/><circle cx="172.9" cy="258.8" r="4.0"/><circle cx="103.6" cy="232.7" r="3.0"/><circle cx="147.2" cy="291.6" r="3.6"/><circle cx="146.5" cy="282.2" r="3.6"/><circle cx="245.0" cy="302.1" r="3.8"/><circle cx="206.1" cy="232.8" r="3.6"/><circle cx="218.3" cy="287.5" r="3.8"/><circle cx="157.0" cy="288.9" r="2.6"/><circle cx="144.5" cy="232.8" r="3.6"/><circle cx="250.7" cy="234.4" r="3.0"/><circle cx="144.5" cy="220.1" r="2.6"/><circle cx="209.2" cy="258.9" r="2.8"/><circle cx="159.3" cy="223.2" r="4.0"/><circle cx="125.7" cy="311.0" r="4.0"/><circle cx="155.2" cy="230.6" r="3.2"/><circle cx="114.9" cy="319.6" r="3.4"/><circle cx="165.4" cy="317.3" r="2.6"/><circle cx="131.4" cy="234.5" r="2.8"/><circle cx="117.1" cy="237.9" r="4.0"/><circle cx="184.9" cy="245.3" r="2.8"/><circle cx="102.2" cy="221.5" r="3.8"/><circle cx="141.5" cy="262.0" r="3.8"/><circle cx="248.4" cy="316.3" r="3.4"/><circle cx="181.5" cy="307.3" r="2.6"/><circle cx="140.1" cy="249.2" r="3.6"/><circle cx="257.5" cy="260.7" r="3.0"/><circle cx="200.3" cy="313.3" r="2.6"/><circle cx="215.3" cy="239.4" r="3.4"/><circle cx="173.3" cy="241.6" r="2.8"/><circle cx="164.7" cy="300.3" r="3.8"/><circle cx="200.7" cy="220.3" r="2.8"/><circle cx="164.1" cy="278.0" r="3.6"/><circle cx="254.9" cy="252.8" r="3.8"/><circle cx="206.5" cy="244.1" r="4.0"/><circle cx="204.8" cy="281.8" r="3.8"/><circle cx="183.9" cy="259.7" r="3.6"/><circle cx="89.8" cy="267.4" r="4.0"/><circle cx="98.9" cy="251.1" r="3.4"/><circle cx="113.7" cy="221.4" r="3.4"/><circle cx="137.1" cy="223.7" r="3.2"/><circle cx="247.1" cy="284.4" r="3.4"/><circle cx="140.0" cy="308.2" r="4.0"/><circle cx="221.3" cy="245.2" r="3.8"/><circle cx="163.6" cy="260.0" r="2.6"/><circle cx="89.7" cy="245.5" r="4.0"/><circle cx="96.0" cy="308.5" r="3.4"/><circle cx="134.8" cy="297.1" r="3.4"/><circle cx="218.2" cy="272.1" r="4.2"/><circle cx="151.4" cy="262.7" r="3.2"/><circle cx="235.8" cy="305.7" r="4.0"/><circle cx="194.1" cy="237.3" r="3.0"/><circle cx="183.1" cy="218.8" r="3.2"/><circle cx="215.7" cy="318.9" r="3.2"/><circle cx="215.2" cy="307.1" r="3.0"/><circle cx="195.9" cy="274.6" r="2.6"/><circle cx="191.2" cy="319.9" r="3.2"/><circle cx="236.5" cy="249.1" r="4.0"/><circle cx="182.8" cy="279.8" r="3.8"/><circle cx="216.3" cy="296.6" r="4.0"/><circle cx="190.4" cy="296.1" r="3.4"/><circle cx="165.0" cy="291.6" r="3.8"/><circle cx="200.3" cy="288.9" r="3.2"/><circle cx="96.6" cy="273.8" r="2.8"/><circle cx="114.0" cy="291.1" r="3.6"/><circle cx="257.6" cy="221.5" r="2.6"/><circle cx="116.6" cy="300.0" r="2.6"/><circle cx="132.2" cy="275.3" r="2.6"/><circle cx="225.8" cy="236.7" r="3.4"/><circle cx="170.4" cy="228.9" r="3.2"/><circle cx="208.9" cy="272.9" r="3.2"/><circle cx="244.7" cy="292.7" r="3.8"/><circle cx="224.5" cy="298.2" r="3.6"/><circle cx="168.9" cy="268.2" r="3.0"/><circle cx="143.6" cy="271.1" r="4.0"/><circle cx="125.4" cy="254.0" r="3.2"/><circle cx="232.7" cy="223.1" r="4.2"/><circle cx="248.4" cy="225.1" r="4.2"/><circle cx="226.3" cy="279.1" r="3.0"/><circle cx="95.7" cy="289.9" r="3.6"/><circle cx="234.9" cy="238.9" r="3.2"/><circle cx="250.8" cy="242.9" r="3.4"/><circle cx="116.5" cy="309.0" r="2.6"/><circle cx="240.7" cy="276.6" r="3.0"/><circle cx="230.4" cy="259.3" r="2.8"/><circle cx="240.1" cy="218.7" r="3.8"/><circle cx="257.5" cy="269.1" r="3.0"/><circle cx="168.7" cy="220.4" r="3.4"/><circle cx="224.8" cy="219.6" r="3.4"/><circle cx="181.8" cy="316.6" r="3.4"/><circle cx="173.5" cy="297.5" r="3.6"/><circle cx="151.8" cy="272.3" r="3.6"/><circle cx="248.0" cy="258.3" r="3.0"/><circle cx="108.8" cy="241.8" r="4.2"/><circle cx="225.0" cy="306.4" r="2.8"/><circle cx="198.9" cy="228.3" r="3.0"/><circle cx="117.5" cy="248.1" r="2.8"/><circle cx="215.4" cy="252.2" r="3.8"/><circle cx="192.3" cy="219.8" r="3.4"/><circle cx="259.7" cy="237.0" r="2.6"/></g><path d="M237.6,296.9l3.6,-0.7M237.6,296.9l2.0,1.6M237.6,296.9l1.8,-1.0M237.6,296.9l2.7,-2.6M123.4,225.9l-0.6,-3.6M123.4,225.9l-3.7,1.7M134.6,256.7l-1.8,-0.4M134.6,256.7l-1.4,1.1M134.6,256.7l3.4,-2.2M193.7,247.0l-2.5,-1.9M193.7,247.0l0.7,2.0M112.1,231.2l-0.7,-3.4M112.1,231.2l1.5,-3.5M105.5,270.9l-1.8,1.2M105.5,270.9l-1.6,-2.2M105.5,270.9l0.7,-2.6M160.5,268.7l1.4,2.9M160.5,268.7l-2.0,0.7M160.5,268.7l2.3,-1.4M238.7,315.4l-0.0,2.1M238.7,315.4l0.9,-3.6M102.6,284.5l-2.9,0.6M102.6,284.5l0.4,2.1M127.7,267.2l-2.4,2.2M127.7,267.2l0.0,-3.2M127.7,267.2l0.2,-3.8M127.7,267.2l-4.0,-0.4M126.9,283.7l-1.5,1.4M126.9,283.7l2.3,0.6M126.9,283.7l2.9,0.3M151.8,252.5l4.1,1.1M151.8,252.5l3.2,2.2M151.8,252.5l-1.5,1.9M151.8,252.5l-2.1,-1.7M188.9,285.6l2.1,-2.3M188.9,285.6l-1.0,-1.8M134.9,285.9l-1.7,2.6M134.9,285.9l-0.5,2.8M134.9,285.9l2.1,-1.3M91.5,280.7l-3.7,1.1M91.5,280.7l-2.6,-0.6M91.5,280.7l-0.6,-3.4M91.5,280.7l-3.2,2.9M91.9,256.7l-0.7,-3.5M91.9,256.7l-3.6,0.6M91.9,256.7l3.4,1.0M91.9,256.7l1.9,-2.1M190.4,306.7l0.5,1.8M190.4,306.7l-1.2,2.4M190.4,306.7l2.8,0.2M190.4,306.7l-3.5,-2.1M106.7,308.1l4.0,0.3M106.7,308.1l-1.6,2.2M106.7,308.1l-1.0,-3.1M106.7,308.1l-0.5,2.1M220.3,229.2l-0.7,-3.5M220.3,229.2l-1.6,-3.8M201.3,264.7l2.4,3.5M201.3,264.7l1.5,-3.9M125.0,299.0l-1.7,-1.7M125.0,299.0l2.7,1.2M125.0,299.0l-2.8,-1.0M125.0,299.0l-1.7,-1.0M92.1,221.7l-1.4,1.3M92.1,221.7l-1.8,2.1M92.1,221.7l0.5,3.8M258.0,301.6l3.0,-2.8M258.0,301.6l3.8,-1.2M238.1,286.5l1.2,-2.5M238.1,286.5l2.6,-2.7M118.3,270.0l-1.2,-1.7M118.3,270.0l-0.2,3.1M118.3,270.0l0.0,-1.9M118.3,270.0l3.0,-2.1M171.0,284.9l2.0,-0.9M171.0,284.9l0.7,2.7M171.0,284.9l-1.0,2.1M99.7,241.2l0.7,3.2M99.7,241.2l2.3,-2.7M92.9,298.9l3.4,-1.4M92.9,298.9l-3.9,1.8M163.1,242.0l1.8,2.9M163.1,242.0l-0.6,3.0M181.5,229.8l-3.4,-0.5M181.5,229.8l0.1,-3.8M181.5,229.8l-0.7,-2.0M99.1,320.3l-3.9,1.5M99.1,320.3l-1.3,2.8M99.1,320.3l-3.0,-1.2M201.1,299.0l0.0,-2.3M201.1,299.0l-3.9,-0.9M248.1,271.3l2.0,-0.2M248.1,271.3l-1.3,2.2M248.1,271.3l-1.5,1.2M248.1,271.3l-0.4,3.3M188.9,269.2l2.8,3.1M188.9,269.2l-2.2,-0.8M230.8,271.0l-1.0,1.6M230.8,271.0l0.8,-2.2M230.8,271.0l0.1,3.2M105.6,299.4l-3.0,-0.7M105.6,299.4l-1.0,-2.5M89.9,316.1l1.6,-1.0M89.9,316.1l1.1,1.9M89.9,316.1l-0.9,-2.7M239.9,262.7l-0.7,2.3M239.9,262.7l-2.7,-2.4M239.9,262.7l2.3,-2.0M115.8,256.3l2.0,0.9M115.8,256.3l2.0,1.6M151.7,303.2l1.6,-2.2M151.7,303.2l-3.7,0.5M239.6,229.7l-3.1,-1.9M239.6,229.7l2.8,-2.8M239.6,229.7l-2.3,2.0M239.6,229.7l-0.2,3.7M176.2,250.0l-1.0,-3.9M176.2,250.0l4.2,-0.6M149.4,243.6l2.2,-0.7M149.4,243.6l1.3,2.3M149.4,243.6l2.7,1.7M149.4,243.6l1.8,-1.8M258.0,278.5l2.0,-1.1M258.0,278.5l1.1,-2.2M258.0,278.5l0.8,-2.7M258.0,278.5l-3.3,-1.3M118.9,281.5l0.8,2.6M118.9,281.5l2.1,2.9M253.5,291.1l-1.8,1.1M253.5,291.1l-1.9,-1.1M253.5,291.1l-2.7,3.3M253.5,291.1l-2.9,1.0M194.7,259.8l-2.6,1.4M194.7,259.8l-0.4,-1.8M194.7,259.8l2.5,0.6M173.4,311.4l-3.4,-2.2M173.4,311.4l-2.5,2.2M173.4,311.4l4.0,-0.5M181.9,296.1l-0.6,3.4M181.9,296.1l0.9,1.8M181.9,296.1l3.6,1.7M221.5,258.2l-1.2,1.7M221.5,258.2l1.9,-0.3M140.3,240.4l0.5,-1.8M140.3,240.4l-4.0,-1.7M140.3,240.4l1.6,-1.3M140.3,240.4l3.6,1.7M160.7,309.7l-1.2,-1.4M160.7,309.7l3.6,1.5M160.7,309.7l1.4,-2.0M124.0,319.6l3.2,2.5M124.0,319.6l2.6,0.2M256.6,312.9l0.9,-2.1M256.6,312.9l-1.6,1.1M199.8,252.6l-2.5,3.3M199.8,252.6l-2.8,-1.1M199.8,252.6l0.2,-3.2M199.8,252.6l-2.1,0.7M109.2,250.2l-0.0,-2.1M109.2,250.2l-2.6,-2.1M109.2,250.2l4.0,-0.6M109.2,250.2l1.4,-3.5M228.8,287.3l3.4,-0.2M228.8,287.3l-0.5,-2.4M228.8,287.3l0.6,-3.9M228.8,287.3l-3.1,0.8M210.8,221.9l1.8,1.9M210.8,221.9l1.0,-1.5M150.6,315.3l1.3,-2.4M150.6,315.3l-3.2,2.9M150.6,315.3l-1.2,-2.6M177.9,272.2l1.4,2.7M177.9,272.2l-2.2,-0.3M177.9,272.2l-1.7,-2.7M190.4,229.3l2.1,-3.1M190.4,229.3l4.0,-0.2M190.4,229.3l2.4,-3.5M190.4,229.3l0.6,2.2M226.9,314.6l3.2,-0.2M226.9,314.6l-0.8,-2.3M105.9,258.9l2.0,0.7M105.9,258.9l-2.0,2.0M105.9,258.9l-3.4,-2.3M105.9,258.9l0.7,2.4M127.7,244.1l1.5,2.4M127.7,244.1l-1.9,-0.4M127.7,244.1l-1.8,-0.8M127.7,244.1l-1.1,2.4M94.8,233.8l2.4,-0.5M94.8,233.8l1.8,2.2M94.8,233.8l-2.7,1.1M137.4,320.3l0.2,1.9M137.4,320.3l0.6,-2.5M137.4,320.3l-0.5,3.9M172.9,258.8l0.1,3.4M172.9,258.8l-1.6,-0.8M172.9,258.8l1.2,2.9M172.9,258.8l-1.9,3.8M103.6,232.7l0.5,2.2M103.6,232.7l-1.5,-4.0M103.6,232.7l-0.5,-1.8M103.6,232.7l2.3,0.3M147.2,291.6l1.4,-3.1M147.2,291.6l-0.9,3.7M146.5,282.2l-2.7,2.7M146.5,282.2l-3.3,-0.9M146.5,282.2l3.1,1.2M146.5,282.2l2.3,3.1M245.0,302.1l2.5,2.6M245.0,302.1l2.2,0.1M245.0,302.1l0.1,-3.6M245.0,302.1l-2.0,0.4M206.1,232.8l-1.1,2.0M206.1,232.8l0.3,4.3M206.1,232.8l2.0,-0.2M206.1,232.8l-0.1,2.0M218.3,287.5l-0.2,-2.2M218.3,287.5l1.4,1.2M157.0,288.9l0.5,-2.3M157.0,288.9l1.2,-3.5M144.5,232.8l1.4,-1.2M144.5,232.8l-3.7,-0.3M250.7,234.4l0.2,-4.0M250.7,234.4l1.5,1.7M144.5,220.1l2.1,-1.6M144.5,220.1l0.9,2.9M144.5,220.1l-3.6,1.9M144.5,220.1l-0.4,-3.9M209.2,258.9l0.4,-1.9M209.2,258.9l1.6,3.2M209.2,258.9l3.4,2.0M159.3,223.2l-3.1,-0.4M159.3,223.2l-3.2,-1.8M125.7,311.0l1.8,-1.7M125.7,311.0l2.3,-1.4M155.2,230.6l1.4,3.2M155.2,230.6l2.8,-0.2M114.9,319.6l-3.7,1.2M114.9,319.6l-3.3,-1.0M114.9,319.6l2.0,1.0M114.9,319.6l-2.3,0.5M165.4,317.3l-2.6,2.9M165.4,317.3l0.8,-2.7M131.4,234.5l-1.4,1.1M131.4,234.5l-3.9,0.2M117.1,237.9l-3.1,0.9M117.1,237.9l2.1,-3.3M117.1,237.9l2.8,3.2M117.1,237.9l-2.9,0.8M184.9,245.3l-2.8,-1.0M184.9,245.3l3.5,0.9M102.2,221.5l1.5,1.3M102.2,221.5l2.5,-1.5M102.2,221.5l-2.0,0.6M102.2,221.5l1.8,-0.2M141.5,262.0l-0.5,2.8M141.5,262.0l-1.1,1.8M248.4,316.3l-0.6,-1.9M248.4,316.3l-0.7,2.4M248.4,316.3l-2.8,0.3M181.5,307.3l2.3,-2.1M181.5,307.3l-1.8,-2.2M140.1,249.2l1.1,3.2M140.1,249.2l-2.5,0.1M140.1,249.2l0.8,-2.3M257.5,260.7l-2.0,-2.9M257.5,260.7l-2.0,-0.8M200.3,313.3l-0.3,2.7M200.3,313.3l-2.6,-0.1M215.3,239.4l0.0,-2.0M215.3,239.4l2.1,1.7M173.3,241.6l2.8,-2.9M173.3,241.6l-2.4,0.9M173.3,241.6l1.2,-1.7M173.3,241.6l-1.4,1.3M164.7,300.3l1.6,1.3M164.7,300.3l-1.3,1.8M164.7,300.3l-0.1,-2.0M164.7,300.3l3.3,2.6M200.7,220.3l-2.1,2.3M200.7,220.3l-3.7,1.7M200.7,220.3l1.7,-2.2M200.7,220.3l-1.8,1.9M164.1,278.0l0.9,-3.3M164.1,278.0l-4.0,0.6M164.1,278.0l-2.6,2.7M164.1,278.0l-2.0,1.8M254.9,252.8l3.8,-1.9M254.9,252.8l-2.8,-2.7M254.9,252.8l0.7,2.1M254.9,252.8l0.6,3.1M206.5,244.1l-0.9,2.4M206.5,244.1l-2.5,-1.1M206.5,244.1l-1.1,3.4M204.8,281.8l1.7,-2.0M204.8,281.8l4.0,0.4M204.8,281.8l2.5,-1.2M183.9,259.7l-3.4,-0.0M183.9,259.7l1.7,1.0M89.8,267.4l1.3,2.8M89.8,267.4l2.1,-2.4M98.9,251.1l-2.7,-0.3M98.9,251.1l-2.2,2.5M113.7,221.4l-0.3,2.4M113.7,221.4l-0.2,-4.2M113.7,221.4l0.2,2.5M137.1,223.7l1.8,-1.2M137.1,223.7l1.7,0.5M247.1,284.4l-3.2,0.4M247.1,284.4l-2.0,-3.0M140.0,308.2l2.8,2.4M140.0,308.2l2.1,0.3M140.0,308.2l-0.1,2.1M140.0,308.2l1.4,2.0M221.3,245.2l-3.2,-0.0M221.3,245.2l-0.0,-3.3M163.6,260.0l-1.2,2.4M163.6,260.0l-3.0,1.9M163.6,260.0l-0.6,3.5M89.7,245.5l-1.0,2.6M89.7,245.5l-4.1,0.0M89.7,245.5l3.8,1.2M96.0,308.5l-2.7,2.2M96.0,308.5l2.3,0.3M96.0,308.5l-1.6,-2.1M96.0,308.5l-4.3,-0.5M134.8,297.1l-1.7,3.9M134.8,297.1l2.3,-0.2M134.8,297.1l-2.1,1.8M134.8,297.1l2.6,-0.0M218.2,272.1l3.7,1.8M218.2,272.1l-2.5,-0.3M218.2,272.1l-3.1,-1.0M151.4,262.7l1.2,-1.4M151.4,262.7l-3.1,1.0M151.4,262.7l-0.2,-3.8M235.8,305.7l-0.3,2.3M235.8,305.7l-1.3,-2.5M194.1,237.3l-3.3,2.2M194.1,237.3l0.1,3.9M194.1,237.3l1.8,-0.6M194.1,237.3l-1.0,-2.3M183.1,218.8l1.7,-1.0M183.1,218.8l-0.4,-3.6M183.1,218.8l3.3,-2.7M183.1,218.8l-2.1,-2.5M215.7,318.9l1.1,1.5M215.7,318.9l1.1,2.8M215.7,318.9l0.8,2.5M215.2,307.1l2.0,-3.3M215.2,307.1l-0.6,-2.3M215.2,307.1l2.1,0.0M215.2,307.1l2.7,1.6M195.9,274.6l-2.1,1.1M195.9,274.6l1.9,2.0M195.9,274.6l1.0,-2.9M191.2,319.9l-1.9,-1.0M191.2,319.9l1.5,2.0M191.2,319.9l-0.6,-4.2M191.2,319.9l0.5,2.4M236.5,249.1l1.3,-1.3M236.5,249.1l-2.2,1.6M236.5,249.1l-0.4,-2.2M236.5,249.1l2.0,-0.1M182.8,279.8l0.3,3.0M182.8,279.8l-1.2,3.6M182.8,279.8l-1.6,1.2M216.3,296.6l-2.1,0.2M216.3,296.6l-1.8,-2.9M216.3,296.6l-1.3,-1.5M190.4,296.1l-0.7,-1.8M190.4,296.1l2.8,-2.0M165.0,291.6l-1.0,1.7M165.0,291.6l-3.9,-0.5M200.3,288.9l-2.1,-3.7M200.3,288.9l-2.9,-0.4M200.3,288.9l-0.8,4.2M96.6,273.8l-2.2,3.4M96.6,273.8l3.3,0.8M114.0,291.1l1.1,-3.0M114.0,291.1l-0.3,2.5M114.0,291.1l0.8,3.7M257.6,221.5l-1.8,-0.6M257.6,221.5l-2.4,-1.1M257.6,221.5l1.9,-1.3M257.6,221.5l-1.1,3.8M116.6,300.0l-0.7,3.3M116.6,300.0l1.4,1.9M116.6,300.0l1.8,3.6M132.2,275.3l-1.8,1.7M132.2,275.3l-0.7,-2.8M132.2,275.3l-2.5,-2.1M132.2,275.3l-1.0,-4.0M225.8,236.7l1.4,4.0M225.8,236.7l-3.6,-1.3M225.8,236.7l0.6,-1.8M225.8,236.7l3.0,0.7M170.4,228.9l-4.0,0.7M170.4,228.9l3.4,-1.6M170.4,228.9l-2.7,1.0M170.4,228.9l-0.4,-4.0M208.9,272.9l3.7,0.8M208.9,272.9l2.0,1.9M208.9,272.9l-1.7,0.6M208.9,272.9l-1.5,-3.2M244.7,292.7l1.4,-3.2M244.7,292.7l-0.7,1.9M244.7,292.7l-1.7,-3.3M224.5,298.2l-2.1,-2.4M224.5,298.2l-1.0,3.1M224.5,298.2l-2.1,2.9M224.5,298.2l1.4,-2.9M168.9,268.2l1.2,-1.8M168.9,268.2l2.7,-2.7M168.9,268.2l1.3,3.9M168.9,268.2l1.6,-3.8M143.6,271.1l3.8,-0.8M143.6,271.1l1.4,-3.4M125.4,254.0l1.4,-2.5M125.4,254.0l-3.0,1.9M232.7,223.1l2.6,1.2M232.7,223.1l-2.1,1.1M232.7,223.1l2.9,3.1M232.7,223.1l-3.9,-1.6M248.4,225.1l-1.0,2.7M248.4,225.1l-3.2,-2.7M248.4,225.1l-3.9,0.7M248.4,225.1l3.0,-0.8M226.3,279.1l-3.6,2.2M226.3,279.1l1.9,-0.7M226.3,279.1l1.8,0.6M226.3,279.1l-1.4,-2.7M95.7,289.9l-0.4,2.4M95.7,289.9l-2.0,-3.8M95.7,289.9l-3.1,-1.3M234.9,238.9l3.7,-1.6M234.9,238.9l-0.4,-1.8M234.9,238.9l1.8,2.7M250.8,242.9l-1.4,-3.7M250.8,242.9l-3.7,1.9M116.5,309.0l0.6,-4.2M116.5,309.0l1.1,-3.6M240.7,276.6l-3.4,-0.0M240.7,276.6l3.2,-2.0M240.7,276.6l-1.3,-4.1M240.7,276.6l1.5,1.2M230.4,259.3l0.7,-2.0M230.4,259.3l-3.1,-0.1M240.1,218.7l0.6,1.7M240.1,218.7l2.9,-3.1M257.5,269.1l-0.4,2.2M257.5,269.1l-0.1,-2.6M257.5,269.1l0.4,-3.1M257.5,269.1l-2.4,-2.6M168.7,220.4l-4.1,-0.4M168.7,220.4l1.8,-0.4M168.7,220.4l0.3,-2.1M224.8,219.6l-0.3,2.7M224.8,219.6l-1.9,-3.5M224.8,219.6l1.3,2.7M224.8,219.6l-3.1,2.7M181.8,316.6l-4.2,0.7M181.8,316.6l-2.3,-2.6M181.8,316.6l-3.1,-0.8M181.8,316.6l1.4,-2.0M173.5,297.5l2.4,1.3M173.5,297.5l1.5,-2.1M173.5,297.5l1.6,-1.0M173.5,297.5l1.7,2.4M151.8,272.3l3.1,-2.3M151.8,272.3l1.7,4.0M151.8,272.3l2.9,0.9M248.0,258.3l3.1,0.8M248.0,258.3l-2.8,-0.9M108.8,241.8l-0.1,-1.9M108.8,241.8l-1.9,-1.4M108.8,241.8l-0.6,3.6M225.0,306.4l-3.7,1.6M225.0,306.4l0.8,-2.8M225.0,306.4l-0.5,4.1M198.9,228.3l-0.1,2.7M198.9,228.3l3.5,1.5M117.5,248.1l2.1,-3.7M117.5,248.1l-0.8,2.0M215.4,252.2l3.7,1.8M215.4,252.2l0.1,-2.4M215.4,252.2l1.2,-1.9M192.3,219.8l1.9,-3.5M192.3,219.8l2.3,2.5M192.3,219.8l-2.3,0.3M259.7,237.0l-2.9,1.0M259.7,237.0l-1.3,-2.1M259.7,237.0l1.1,2.6" stroke="#e82434" stroke-opacity="0.51" stroke-width="1.4" stroke-linecap="round" fill="none" filter="url(#bs)"/><g fill="#e82434" fill-opacity="0.85" filter="url(#bs)"><circle cx="237.6" cy="296.9" r="2.0"/><circle cx="123.4" cy="225.9" r="1.4"/><circle cx="134.6" cy="256.7" r="1.4"/><circle cx="193.7" cy="247.0" r="1.8"/><circle cx="112.1" cy="231.2" r="1.4"/><circle cx="105.5" cy="270.9" r="2.0"/><circle cx="160.5" cy="268.7" r="1.9"/><circle cx="238.7" cy="315.4" r="1.8"/><circle cx="102.6" cy="284.5" r="1.5"/><circle cx="127.7" cy="267.2" r="1.9"/><circle cx="126.9" cy="283.7" r="1.9"/><circle cx="151.8" cy="252.5" r="1.6"/><circle cx="188.9" cy="285.6" r="1.3"/><circle cx="134.9" cy="285.9" r="1.6"/><circle cx="91.5" cy="280.7" r="1.6"/><circle cx="91.9" cy="256.7" r="1.3"/><circle cx="190.4" cy="306.7" r="1.9"/><circle cx="106.7" cy="308.1" r="1.3"/><circle cx="220.3" cy="229.2" r="1.6"/><circle cx="201.3" cy="264.7" r="1.4"/><circle cx="125.0" cy="299.0" r="2.0"/><circle cx="92.1" cy="221.7" r="1.6"/><circle cx="258.0" cy="301.6" r="1.9"/><circle cx="238.1" cy="286.5" r="1.8"/><circle cx="118.3" cy="270.0" r="1.8"/><circle cx="171.0" cy="284.9" r="1.3"/><circle cx="99.7" cy="241.2" r="1.9"/><circle cx="92.9" cy="298.9" r="1.9"/><circle cx="163.1" cy="242.0" r="1.5"/><circle cx="181.5" cy="229.8" r="1.8"/><circle cx="99.1" cy="320.3" r="1.7"/><circle cx="201.1" cy="299.0" r="1.9"/><circle cx="248.1" cy="271.3" r="2.0"/><circle cx="188.9" cy="269.2" r="1.5"/><circle cx="230.8" cy="271.0" r="1.6"/><circle cx="105.6" cy="299.4" r="1.9"/><circle cx="89.9" cy="316.1" r="1.3"/><circle cx="239.9" cy="262.7" r="1.6"/><circle cx="115.8" cy="256.3" r="1.3"/><circle cx="151.7" cy="303.2" r="1.8"/><circle cx="239.6" cy="229.7" r="1.4"/><circle cx="176.2" cy="250.0" r="2.0"/><circle cx="149.4" cy="243.6" r="1.9"/><circle cx="258.0" cy="278.5" r="1.4"/><circle cx="118.9" cy="281.5" r="1.8"/><circle cx="253.5" cy="291.1" r="1.6"/><circle cx="194.7" cy="259.8" r="1.3"/><circle cx="173.4" cy="311.4" r="2.0"/><circle cx="181.9" cy="296.1" r="1.9"/><circle cx="221.5" cy="258.2" r="1.7"/><circle cx="140.3" cy="240.4" r="1.4"/><circle cx="160.7" cy="309.7" r="2.0"/><circle cx="124.0" cy="319.6" r="2.0"/><circle cx="256.6" cy="312.9" r="1.4"/><circle cx="199.8" cy="252.6" r="1.5"/><circle cx="109.2" cy="250.2" r="1.9"/><circle cx="228.8" cy="287.3" r="1.6"/><circle cx="210.8" cy="221.9" r="1.8"/><circle cx="150.6" cy="315.3" r="1.8"/><circle cx="177.9" cy="272.2" r="1.4"/><circle cx="190.4" cy="229.3" r="2.0"/><circle cx="226.9" cy="314.6" r="1.8"/><circle cx="105.9" cy="258.9" r="2.0"/><circle cx="127.7" cy="244.1" r="1.3"/><circle cx="94.8" cy="233.8" r="2.1"/><circle cx="137.4" cy="320.3" r="1.6"/><circle cx="172.9" cy="258.8" r="2.0"/><circle cx="103.6" cy="232.7" r="1.5"/><circle cx="147.2" cy="291.6" r="1.8"/><circle cx="146.5" cy="282.2" r="1.8"/><circle cx="245.0" cy="302.1" r="1.9"/><circle cx="206.1" cy="232.8" r="1.8"/><circle cx="218.3" cy="287.5" r="1.9"/><circle cx="157.0" cy="288.9" r="1.3"/><circle cx="144.5" cy="232.8" r="1.8"/><circle cx="250.7" cy="234.4" r="1.5"/><circle cx="144.5" cy="220.1" r="1.3"/><circle cx="209.2" cy="258.9" r="1.4"/><circle cx="159.3" cy="223.2" r="2.0"/><circle cx="125.7" cy="311.0" r="2.0"/><circle cx="155.2" cy="230.6" r="1.6"/><circle cx="114.9" cy="319.6" r="1.7"/><circle cx="165.4" cy="317.3" r="1.3"/><circle cx="131.4" cy="234.5" r="1.4"/><circle cx="117.1" cy="237.9" r="2.0"/><circle cx="184.9" cy="245.3" r="1.4"/><circle cx="102.2" cy="221.5" r="1.9"/><circle cx="141.5" cy="262.0" r="1.9"/><circle cx="248.4" cy="316.3" r="1.7"/><circle cx="181.5" cy="307.3" r="1.3"/><circle cx="140.1" cy="249.2" r="1.8"/><circle cx="257.5" cy="260.7" r="1.5"/><circle cx="200.3" cy="313.3" r="1.3"/><circle cx="215.3" cy="239.4" r="1.7"/><circle cx="173.3" cy="241.6" r="1.4"/><circle cx="164.7" cy="300.3" r="1.9"/><circle cx="200.7" cy="220.3" r="1.4"/><circle cx="164.1" cy="278.0" r="1.8"/><circle cx="254.9" cy="252.8" r="1.9"/><circle cx="206.5" cy="244.1" r="2.0"/><circle cx="204.8" cy="281.8" r="1.9"/><circle cx="183.9" cy="259.7" r="1.8"/><circle cx="89.8" cy="267.4" r="2.0"/><circle cx="98.9" cy="251.1" r="1.7"/><circle cx="113.7" cy="221.4" r="1.7"/><circle cx="137.1" cy="223.7" r="1.6"/><circle cx="247.1" cy="284.4" r="1.7"/><circle cx="140.0" cy="308.2" r="2.0"/><circle cx="221.3" cy="245.2" r="1.9"/><circle cx="163.6" cy="260.0" r="1.3"/><circle cx="89.7" cy="245.5" r="2.0"/><circle cx="96.0" cy="308.5" r="1.7"/><circle cx="134.8" cy="297.1" r="1.7"/><circle cx="218.2" cy="272.1" r="2.1"/><circle cx="151.4" cy="262.7" r="1.6"/><circle cx="235.8" cy="305.7" r="2.0"/><circle cx="194.1" cy="237.3" r="1.5"/><circle cx="183.1" cy="218.8" r="1.6"/><circle cx="215.7" cy="318.9" r="1.6"/><circle cx="215.2" cy="307.1" r="1.5"/><circle cx="195.9" cy="274.6" r="1.3"/><circle cx="191.2" cy="319.9" r="1.6"/><circle cx="236.5" cy="249.1" r="2.0"/><circle cx="182.8" cy="279.8" r="1.9"/><circle cx="216.3" cy="296.6" r="2.0"/><circle cx="190.4" cy="296.1" r="1.7"/><circle cx="165.0" cy="291.6" r="1.9"/><circle cx="200.3" cy="288.9" r="1.6"/><circle cx="96.6" cy="273.8" r="1.4"/><circle cx="114.0" cy="291.1" r="1.8"/><circle cx="257.6" cy="221.5" r="1.3"/><circle cx="116.6" cy="300.0" r="1.3"/><circle cx="132.2" cy="275.3" r="1.3"/><circle cx="225.8" cy="236.7" r="1.7"/><circle cx="170.4" cy="228.9" r="1.6"/><circle cx="208.9" cy="272.9" r="1.6"/><circle cx="244.7" cy="292.7" r="1.9"/><circle cx="224.5" cy="298.2" r="1.8"/><circle cx="168.9" cy="268.2" r="1.5"/><circle cx="143.6" cy="271.1" r="2.0"/><circle cx="125.4" cy="254.0" r="1.6"/><circle cx="232.7" cy="223.1" r="2.1"/><circle cx="248.4" cy="225.1" r="2.1"/><circle cx="226.3" cy="279.1" r="1.5"/><circle cx="95.7" cy="289.9" r="1.8"/><circle cx="234.9" cy="238.9" r="1.6"/><circle cx="250.8" cy="242.9" r="1.7"/><circle cx="116.5" cy="309.0" r="1.3"/><circle cx="240.7" cy="276.6" r="1.5"/><circle cx="230.4" cy="259.3" r="1.4"/><circle cx="240.1" cy="218.7" r="1.9"/><circle cx="257.5" cy="269.1" r="1.5"/><circle cx="168.7" cy="220.4" r="1.7"/><circle cx="224.8" cy="219.6" r="1.7"/><circle cx="181.8" cy="316.6" r="1.7"/><circle cx="173.5" cy="297.5" r="1.8"/><circle cx="151.8" cy="272.3" r="1.8"/><circle cx="248.0" cy="258.3" r="1.5"/><circle cx="108.8" cy="241.8" r="2.1"/><circle cx="225.0" cy="306.4" r="1.4"/><circle cx="198.9" cy="228.3" r="1.5"/><circle cx="117.5" cy="248.1" r="1.4"/><circle cx="215.4" cy="252.2" r="1.9"/><circle cx="192.3" cy="219.8" r="1.7"/><circle cx="259.7" cy="237.0" r="1.3"/></g></g><g clip-path="url(#cd3)"><rect x="265" y="220.6" width="166.5" height="97" fill="#040208"/><rect x="265" y="220.6" width="166.5" height="97" fill="#1a20a0" opacity="0.08"/><path d="M258.0,277.0 285.2,268.0 308.5,258.8 338.7,251.8 366.5,254.2 389.8,257.6 436.0,256.5" fill="none" stroke="#121c98" stroke-width="16.0" stroke-opacity="0.855" stroke-linecap="round" stroke-linejoin="round" filter="url(#bl)"/><path d="M285.0,316.0 299.8,310.0 346.3,296.0 381.0,286.7 436.0,279.7" fill="none" stroke="#121c98" stroke-width="14.0" stroke-opacity="0.855" stroke-linecap="round" stroke-linejoin="round" filter="url(#bl)"/><path d="M262.0,290.0 275.0,300.0" fill="none" stroke="#121c98" stroke-width="30.0" stroke-opacity="0.855" stroke-linecap="round" stroke-linejoin="round" filter="url(#bl)"/><g fill="#f02858" fill-opacity="0.5" filter="url(#bh)"><circle cx="391.1" cy="292.5" r="4.4"/><circle cx="341.4" cy="279.9" r="3.6"/><circle cx="306.5" cy="314.4" r="3.2"/><circle cx="372.1" cy="299.8" r="4.6"/><circle cx="325.9" cy="277.1" r="4.0"/><circle cx="384.1" cy="272.4" r="4.4"/><circle cx="392.7" cy="246.1" r="2.8"/><circle cx="350.9" cy="233.1" r="3.0"/><circle cx="331.8" cy="308.1" r="4.0"/><circle cx="268.2" cy="237.6" r="2.8"/><circle cx="355.5" cy="285.0" r="3.4"/><circle cx="289.2" cy="273.6" r="3.8"/><circle cx="310.9" cy="219.2" r="4.0"/><circle cx="349.5" cy="317.1" r="3.8"/><circle cx="342.6" cy="295.4" r="2.8"/><circle cx="369.3" cy="222.4" r="4.4"/><circle cx="374.5" cy="248.7" r="3.4"/><circle cx="417.3" cy="286.2" r="4.6"/><circle cx="422.0" cy="304.3" r="3.4"/><circle cx="362.5" cy="265.8" r="3.8"/><circle cx="353.4" cy="250.9" r="3.4"/><circle cx="408.5" cy="231.5" r="3.6"/><circle cx="431.7" cy="252.9" r="4.4"/><circle cx="272.3" cy="306.4" r="4.0"/><circle cx="409.4" cy="298.1" r="3.0"/><circle cx="298.9" cy="263.3" r="3.4"/><circle cx="278.5" cy="286.0" r="3.8"/><circle cx="382.0" cy="224.7" r="3.4"/><circle cx="293.4" cy="310.3" r="4.0"/><circle cx="337.3" cy="227.0" r="2.8"/><circle cx="285.4" cy="219.0" r="4.2"/><circle cx="314.5" cy="265.2" r="3.4"/><circle cx="414.2" cy="261.5" r="4.0"/><circle cx="386.3" cy="309.0" r="4.6"/><circle cx="300.7" cy="240.0" r="4.6"/><circle cx="324.3" cy="247.0" r="3.6"/><circle cx="398.4" cy="277.0" r="3.2"/><circle cx="415.9" cy="318.6" r="3.4"/><circle cx="414.2" cy="245.1" r="3.2"/><circle cx="264.6" cy="278.3" r="3.0"/><circle cx="324.9" cy="233.9" r="3.6"/><circle cx="320.2" cy="316.5" r="3.8"/><circle cx="270.5" cy="266.2" r="4.2"/><circle cx="305.9" cy="291.3" r="3.6"/><circle cx="325.6" cy="218.7" r="3.4"/><circle cx="347.3" cy="262.5" r="4.2"/><circle cx="430.4" cy="239.8" r="4.4"/><circle cx="356.7" cy="303.9" r="2.8"/><circle cx="284.1" cy="245.8" r="3.0"/><circle cx="376.9" cy="282.8" r="4.4"/></g><path d="M391.1,292.5l-3.1,-0.7M391.1,292.5l2.3,2.6M391.1,292.5l-2.5,-0.9M341.4,279.9l2.5,1.1M341.4,279.9l0.5,-3.5M306.5,314.4l-3.7,1.3M306.5,314.4l-3.0,1.6M306.5,314.4l1.9,-0.5M306.5,314.4l-3.0,-1.4M372.1,299.8l-1.7,1.7M372.1,299.8l-0.1,2.6M372.1,299.8l1.9,2.0M372.1,299.8l3.0,1.6M325.9,277.1l-4.1,-0.1M325.9,277.1l-1.7,3.3M325.9,277.1l-3.7,2.2M384.1,272.4l0.0,-3.7M384.1,272.4l-1.6,-2.0M392.7,246.1l-0.4,4.3M392.7,246.1l-2.7,0.9M350.9,233.1l-1.6,-1.3M350.9,233.1l0.6,2.5M331.8,308.1l-2.5,2.8M331.8,308.1l1.2,-1.8M331.8,308.1l-3.7,-0.0M331.8,308.1l0.2,3.2M268.2,237.6l1.7,2.2M268.2,237.6l-1.3,-2.9M355.5,285.0l-2.1,3.3M355.5,285.0l3.4,-1.6M289.2,273.6l0.9,1.6M289.2,273.6l0.9,-1.7M310.9,219.2l2.4,3.5M310.9,219.2l1.8,-0.7M310.9,219.2l-0.6,2.2M310.9,219.2l1.2,-3.7M349.5,317.1l2.4,3.0M349.5,317.1l4.3,-0.3M349.5,317.1l0.7,2.0M342.6,295.4l0.9,-2.9M342.6,295.4l-0.4,-2.5M369.3,222.4l-2.1,-0.7M369.3,222.4l2.1,0.8M374.5,248.7l-2.1,2.7M374.5,248.7l-2.4,3.2M417.3,286.2l-3.5,2.2M417.3,286.2l2.4,-0.7M417.3,286.2l-3.7,-2.0M422.0,304.3l0.1,-2.9M422.0,304.3l-0.2,-2.4M422.0,304.3l-0.6,-2.2M422.0,304.3l3.2,-0.3M362.5,265.8l-1.4,3.3M362.5,265.8l-0.4,-3.7M353.4,250.9l-2.2,-0.7M353.4,250.9l3.3,-0.7M353.4,250.9l-1.7,2.0M408.5,231.5l0.8,2.5M408.5,231.5l0.2,3.9M431.7,252.9l0.3,-2.5M431.7,252.9l2.1,1.1M272.3,306.4l-1.3,3.5M272.3,306.4l-1.1,1.9M272.3,306.4l1.8,-2.3M409.4,298.1l-3.7,-0.1M409.4,298.1l-2.9,3.1M409.4,298.1l-2.0,-1.9M298.9,263.3l-2.5,3.0M298.9,263.3l-2.8,2.4M298.9,263.3l-2.4,3.5M278.5,286.0l-2.3,2.8M278.5,286.0l1.8,-1.7M278.5,286.0l1.7,3.4M382.0,224.7l0.9,-1.9M382.0,224.7l3.0,0.4M382.0,224.7l1.7,2.4M382.0,224.7l4.0,-1.1M293.4,310.3l-1.4,2.3M293.4,310.3l-3.1,2.8M337.3,227.0l-0.9,-3.4M337.3,227.0l3.6,-0.4M337.3,227.0l1.4,-2.8M285.4,219.0l0.9,3.4M285.4,219.0l2.0,-1.0M285.4,219.0l0.1,-3.8M314.5,265.2l2.0,2.4M314.5,265.2l3.1,-0.4M314.5,265.2l2.0,-2.0M414.2,261.5l-2.0,-1.0M414.2,261.5l-1.6,2.8M414.2,261.5l-0.6,-2.0M386.3,309.0l-0.1,-2.2M386.3,309.0l-1.7,-0.6M300.7,240.0l-1.1,3.0M300.7,240.0l1.5,-2.9M300.7,240.0l-2.8,-1.5M300.7,240.0l1.4,1.7M324.3,247.0l-2.2,-0.2M324.3,247.0l4.0,0.8M324.3,247.0l3.8,-0.6M398.4,277.0l2.8,-2.5M398.4,277.0l-2.3,-2.1M398.4,277.0l3.8,0.7M398.4,277.0l1.4,-2.5M415.9,318.6l0.6,-2.6M415.9,318.6l-1.5,-3.7M415.9,318.6l2.1,-2.6M414.2,245.1l0.5,2.0M414.2,245.1l-2.3,1.4M264.6,278.3l2.2,0.8M264.6,278.3l0.0,-3.4M324.9,233.9l-2.1,0.0M324.9,233.9l1.1,-2.7M320.2,316.5l2.0,1.2M320.2,316.5l2.0,3.5M320.2,316.5l3.2,1.9M270.5,266.2l-2.5,1.3M270.5,266.2l-2.1,2.8M305.9,291.3l2.4,-3.4M305.9,291.3l-1.6,-3.9M305.9,291.3l-0.2,-3.9M305.9,291.3l-2.9,-0.2M325.6,218.7l-3.8,-1.3M325.6,218.7l3.3,2.0M325.6,218.7l-1.6,-3.1M347.3,262.5l2.0,-0.0M347.3,262.5l2.9,-2.0M430.4,239.8l-2.1,-1.3M430.4,239.8l-2.1,1.2M430.4,239.8l-0.4,2.9M430.4,239.8l1.5,3.3M356.7,303.9l2.0,3.2M356.7,303.9l2.1,-3.7M356.7,303.9l-2.4,-0.7M356.7,303.9l-2.5,3.1M284.1,245.8l3.1,1.6M284.1,245.8l-1.8,1.0M376.9,282.8l-0.8,-2.4M376.9,282.8l2.8,-1.1" stroke="#f02858" stroke-opacity="0.54" stroke-width="1.4" stroke-linecap="round" fill="none" filter="url(#bs)"/><g fill="#f02858" fill-opacity="0.9" filter="url(#bs)"><circle cx="391.1" cy="292.5" r="2.2"/><circle cx="341.4" cy="279.9" r="1.8"/><circle cx="306.5" cy="314.4" r="1.6"/><circle cx="372.1" cy="299.8" r="2.3"/><circle cx="325.9" cy="277.1" r="2.0"/><circle cx="384.1" cy="272.4" r="2.2"/><circle cx="392.7" cy="246.1" r="1.4"/><circle cx="350.9" cy="233.1" r="1.5"/><circle cx="331.8" cy="308.1" r="2.0"/><circle cx="268.2" cy="237.6" r="1.4"/><circle cx="355.5" cy="285.0" r="1.7"/><circle cx="289.2" cy="273.6" r="1.9"/><circle cx="310.9" cy="219.2" r="2.0"/><circle cx="349.5" cy="317.1" r="1.9"/><circle cx="342.6" cy="295.4" r="1.4"/><circle cx="369.3" cy="222.4" r="2.2"/><circle cx="374.5" cy="248.7" r="1.7"/><circle cx="417.3" cy="286.2" r="2.3"/><circle cx="422.0" cy="304.3" r="1.7"/><circle cx="362.5" cy="265.8" r="1.9"/><circle cx="353.4" cy="250.9" r="1.7"/><circle cx="408.5" cy="231.5" r="1.8"/><circle cx="431.7" cy="252.9" r="2.2"/><circle cx="272.3" cy="306.4" r="2.0"/><circle cx="409.4" cy="298.1" r="1.5"/><circle cx="298.9" cy="263.3" r="1.7"/><circle cx="278.5" cy="286.0" r="1.9"/><circle cx="382.0" cy="224.7" r="1.7"/><circle cx="293.4" cy="310.3" r="2.0"/><circle cx="337.3" cy="227.0" r="1.4"/><circle cx="285.4" cy="219.0" r="2.1"/><circle cx="314.5" cy="265.2" r="1.7"/><circle cx="414.2" cy="261.5" r="2.0"/><circle cx="386.3" cy="309.0" r="2.3"/><circle cx="300.7" cy="240.0" r="2.3"/><circle cx="324.3" cy="247.0" r="1.8"/><circle cx="398.4" cy="277.0" r="1.6"/><circle cx="415.9" cy="318.6" r="1.7"/><circle cx="414.2" cy="245.1" r="1.6"/><circle cx="264.6" cy="278.3" r="1.5"/><circle cx="324.9" cy="233.9" r="1.8"/><circle cx="320.2" cy="316.5" r="1.9"/><circle cx="270.5" cy="266.2" r="2.1"/><circle cx="305.9" cy="291.3" r="1.8"/><circle cx="325.6" cy="218.7" r="1.7"/><circle cx="347.3" cy="262.5" r="2.1"/><circle cx="430.4" cy="239.8" r="2.2"/><circle cx="356.7" cy="303.9" r="1.4"/><circle cx="284.1" cy="245.8" r="1.5"/><circle cx="376.9" cy="282.8" r="2.2"/></g></g><g clip-path="url(#cv12)"><rect x="91" y="323.3" width="167" height="98.7" fill="#040208"/><rect x="91" y="323.3" width="167" height="98.7" fill="#1a20a0" opacity="0.16"/><path d="M104.0,320.0 104.0,345.0 118.0,364.0 146.0,378.0 169.3,394.3 192.5,403.6 215.8,399.0 239.0,389.7" fill="none" stroke="#121c98" stroke-width="15.299999999999999" stroke-opacity="0.45" stroke-linecap="round" stroke-linejoin="round" filter="url(#bl)"/><path d="M98.0,320.0 108.0,350.0" fill="none" stroke="#121c98" stroke-width="22.099999999999998" stroke-opacity="0.405" stroke-linecap="round" stroke-linejoin="round" filter="url(#bl)"/><path d="M240.0,390.0 262.0,380.0" fill="none" stroke="#121c98" stroke-width="17.0" stroke-opacity="0.405" stroke-linecap="round" stroke-linejoin="round" filter="url(#bl)"/><g fill="#f02030" fill-opacity="0.3" filter="url(#bh)"><circle cx="245.1" cy="402.0" r="2.8"/><circle cx="184.9" cy="330.9" r="3.4"/><circle cx="200.6" cy="335.3" r="2.2"/><circle cx="245.5" cy="374.3" r="3.0"/><circle cx="137.7" cy="386.0" r="3.2"/><circle cx="166.4" cy="327.4" r="3.0"/><circle cx="203.0" cy="423.7" r="2.8"/><circle cx="252.2" cy="376.9" r="3.8"/><circle cx="104.2" cy="385.0" r="3.8"/><circle cx="224.2" cy="344.3" r="2.2"/><circle cx="179.6" cy="420.6" r="2.0"/><circle cx="217.5" cy="333.6" r="3.2"/><circle cx="159.2" cy="321.4" r="4.0"/><circle cx="188.4" cy="384.7" r="4.4"/><circle cx="136.1" cy="348.9" r="3.0"/><circle cx="215.8" cy="366.7" r="2.8"/><circle cx="259.1" cy="400.2" r="2.2"/><circle cx="90.2" cy="418.7" r="2.0"/><circle cx="164.4" cy="360.3" r="3.8"/><circle cx="221.7" cy="385.6" r="2.4"/><circle cx="230.1" cy="373.7" r="2.6"/><circle cx="244.3" cy="422.5" r="2.0"/><circle cx="151.7" cy="369.8" r="3.8"/><circle cx="209.0" cy="337.8" r="2.0"/><circle cx="227.8" cy="383.4" r="4.0"/><circle cx="90.4" cy="423.7" r="3.4"/><circle cx="191.1" cy="334.3" r="2.0"/><circle cx="95.5" cy="373.3" r="2.6"/><circle cx="200.6" cy="414.1" r="3.8"/><circle cx="103.9" cy="419.4" r="3.4"/><circle cx="210.2" cy="422.2" r="3.8"/><circle cx="205.3" cy="356.3" r="2.0"/><circle cx="183.2" cy="348.2" r="4.2"/><circle cx="189.8" cy="341.7" r="3.2"/><circle cx="212.2" cy="398.7" r="3.8"/><circle cx="253.5" cy="358.8" r="3.8"/><circle cx="237.7" cy="337.9" r="3.4"/><circle cx="174.5" cy="352.4" r="4.4"/><circle cx="113.4" cy="372.2" r="3.8"/><circle cx="123.9" cy="388.8" r="4.2"/><circle cx="121.0" cy="422.1" r="2.4"/><circle cx="154.8" cy="385.0" r="3.2"/><circle cx="140.3" cy="411.0" r="2.6"/><circle cx="159.4" cy="422.3" r="3.2"/><circle cx="180.9" cy="376.4" r="3.0"/><circle cx="194.4" cy="399.9" r="4.4"/><circle cx="103.0" cy="404.6" r="2.6"/><circle cx="147.2" cy="392.8" r="2.6"/><circle cx="141.4" cy="335.5" r="3.8"/><circle cx="219.4" cy="416.3" r="2.6"/><circle cx="94.4" cy="389.2" r="2.4"/><circle cx="95.3" cy="408.4" r="3.2"/><circle cx="115.1" cy="380.2" r="2.4"/><circle cx="125.2" cy="371.8" r="3.8"/><circle cx="124.7" cy="401.4" r="3.0"/><circle cx="186.3" cy="337.9" r="4.0"/><circle cx="103.1" cy="399.4" r="2.6"/><circle cx="187.5" cy="420.8" r="3.8"/><circle cx="201.6" cy="396.4" r="3.2"/><circle cx="148.8" cy="357.2" r="2.0"/><circle cx="193.8" cy="324.9" r="3.8"/><circle cx="154.2" cy="330.0" r="4.2"/><circle cx="196.6" cy="342.5" r="3.0"/><circle cx="203.6" cy="346.4" r="3.4"/><circle cx="135.3" cy="323.1" r="2.2"/><circle cx="189.0" cy="358.6" r="3.2"/><circle cx="159.4" cy="381.7" r="4.4"/><circle cx="256.1" cy="423.8" r="3.8"/><circle cx="214.0" cy="414.9" r="2.0"/><circle cx="247.4" cy="330.6" r="2.6"/><circle cx="170.5" cy="414.0" r="2.4"/><circle cx="177.9" cy="357.1" r="2.2"/><circle cx="219.1" cy="355.9" r="3.2"/><circle cx="232.4" cy="346.9" r="3.2"/><circle cx="127.3" cy="415.1" r="4.2"/><circle cx="141.8" cy="403.2" r="3.0"/><circle cx="171.8" cy="344.5" r="4.2"/><circle cx="206.1" cy="390.7" r="3.8"/><circle cx="98.6" cy="414.0" r="3.0"/><circle cx="210.5" cy="348.0" r="3.2"/><circle cx="148.8" cy="348.5" r="2.4"/><circle cx="200.4" cy="386.1" r="4.4"/><circle cx="164.4" cy="332.2" r="3.2"/><circle cx="143.2" cy="367.6" r="3.2"/><circle cx="231.4" cy="340.8" r="3.8"/><circle cx="195.2" cy="420.6" r="4.0"/><circle cx="158.6" cy="333.6" r="3.0"/><circle cx="130.8" cy="386.2" r="3.4"/><circle cx="111.4" cy="410.2" r="2.4"/><circle cx="173.8" cy="386.4" r="2.2"/><circle cx="161.9" cy="344.6" r="4.0"/><circle cx="233.7" cy="328.6" r="3.4"/><circle cx="183.7" cy="390.9" r="2.8"/><circle cx="150.8" cy="422.0" r="2.4"/><circle cx="168.2" cy="422.3" r="3.4"/><circle cx="166.2" cy="370.8" r="3.0"/><circle cx="256.5" cy="364.7" r="3.8"/><circle cx="239.2" cy="360.6" r="4.2"/><circle cx="184.9" cy="364.5" r="3.2"/><circle cx="237.9" cy="391.4" r="1.8"/><circle cx="114.2" cy="388.2" r="3.4"/><circle cx="216.2" cy="388.2" r="3.6"/><circle cx="197.5" cy="377.6" r="2.0"/><circle cx="174.8" cy="333.9" r="4.0"/><circle cx="197.2" cy="330.7" r="4.0"/><circle cx="241.0" cy="407.2" r="3.6"/><circle cx="170.8" cy="382.4" r="2.8"/><circle cx="192.5" cy="406.0" r="3.6"/><circle cx="144.0" cy="387.1" r="2.0"/><circle cx="109.6" cy="404.2" r="2.8"/><circle cx="134.7" cy="340.1" r="4.0"/><circle cx="104.6" cy="390.8" r="3.8"/><circle cx="246.1" cy="361.3" r="3.6"/><circle cx="130.6" cy="378.2" r="2.6"/><circle cx="114.2" cy="350.4" r="4.0"/><circle cx="259.3" cy="387.3" r="3.0"/><circle cx="258.7" cy="417.0" r="1.8"/><circle cx="240.1" cy="346.8" r="4.2"/><circle cx="253.1" cy="338.8" r="3.8"/><circle cx="224.2" cy="352.7" r="2.6"/><circle cx="160.2" cy="402.7" r="3.0"/><circle cx="188.5" cy="399.1" r="3.0"/><circle cx="136.6" cy="423.7" r="3.6"/><circle cx="254.6" cy="328.2" r="4.0"/><circle cx="219.9" cy="379.1" r="4.0"/><circle cx="222.1" cy="326.6" r="4.2"/><circle cx="108.6" cy="377.6" r="2.0"/><circle cx="239.2" cy="374.3" r="4.0"/><circle cx="121.3" cy="335.2" r="4.2"/><circle cx="170.1" cy="404.9" r="4.4"/><circle cx="204.9" cy="325.0" r="2.6"/><circle cx="237.9" cy="365.9" r="3.6"/><circle cx="208.7" cy="367.4" r="4.2"/><circle cx="106.3" cy="412.2" r="3.0"/><circle cx="242.1" cy="382.0" r="3.4"/><circle cx="124.9" cy="354.0" r="2.8"/><circle cx="144.9" cy="415.5" r="2.2"/><circle cx="124.6" cy="343.7" r="2.8"/><circle cx="156.3" cy="395.7" r="3.6"/><circle cx="99.0" cy="381.9" r="4.0"/><circle cx="258.8" cy="380.9" r="4.0"/><circle cx="253.3" cy="410.3" r="2.6"/><circle cx="227.4" cy="408.4" r="2.0"/><circle cx="177.8" cy="397.1" r="3.6"/><circle cx="125.8" cy="338.5" r="4.2"/><circle cx="176.1" cy="368.9" r="4.0"/><circle cx="140.2" cy="375.4" r="3.0"/><circle cx="140.7" cy="360.3" r="2.4"/><circle cx="226.9" cy="391.4" r="3.4"/><circle cx="143.2" cy="380.4" r="2.4"/><circle cx="117.0" cy="409.2" r="3.2"/><circle cx="251.9" cy="394.0" r="2.6"/><circle cx="218.9" cy="372.3" r="2.8"/><circle cx="167.5" cy="348.1" r="3.2"/><circle cx="217.0" cy="408.4" r="2.0"/><circle cx="109.7" cy="419.7" r="1.8"/><circle cx="108.4" cy="398.9" r="2.2"/><circle cx="220.9" cy="337.8" r="4.2"/><circle cx="150.5" cy="405.4" r="3.6"/><circle cx="176.8" cy="408.5" r="3.0"/><circle cx="207.2" cy="374.5" r="2.6"/><circle cx="251.8" cy="385.8" r="3.0"/><circle cx="160.0" cy="413.9" r="2.8"/><circle cx="89.2" cy="387.3" r="3.0"/><circle cx="246.1" cy="385.7" r="3.0"/><circle cx="247.1" cy="354.1" r="2.2"/><circle cx="153.1" cy="363.0" r="2.0"/><circle cx="127.4" cy="359.7" r="4.2"/><circle cx="209.2" cy="410.2" r="2.4"/><circle cx="239.5" cy="324.1" r="3.6"/><circle cx="173.4" cy="423.9" r="2.8"/><circle cx="228.6" cy="335.1" r="3.8"/><circle cx="163.8" cy="352.6" r="2.0"/><circle cx="258.2" cy="350.1" r="4.4"/><circle cx="243.3" cy="415.3" r="3.2"/><circle cx="153.0" cy="414.6" r="3.8"/><circle cx="124.4" cy="395.4" r="2.8"/><circle cx="239.1" cy="421.9" r="2.2"/><circle cx="220.8" cy="361.9" r="2.4"/><circle cx="141.4" cy="394.4" r="2.2"/><circle cx="213.8" cy="324.0" r="2.8"/><circle cx="225.4" cy="365.1" r="3.0"/><circle cx="162.9" cy="409.0" r="3.2"/><circle cx="172.2" cy="322.7" r="3.2"/><circle cx="89.4" cy="374.1" r="3.4"/><circle cx="191.5" cy="348.4" r="4.2"/><circle cx="129.1" cy="346.1" r="3.6"/><circle cx="168.7" cy="363.3" r="3.8"/><circle cx="91.2" cy="413.0" r="3.0"/><circle cx="143.9" cy="321.9" r="3.2"/><circle cx="136.6" cy="379.2" r="4.2"/><circle cx="234.0" cy="408.5" r="2.4"/><circle cx="141.8" cy="352.5" r="1.8"/><circle cx="119.7" cy="328.8" r="2.4"/><circle cx="157.5" cy="358.2" r="3.0"/><circle cx="238.6" cy="397.2" r="3.6"/><circle cx="97.6" cy="401.9" r="2.8"/><circle cx="236.4" cy="415.0" r="2.2"/><circle cx="153.1" cy="354.1" r="3.4"/><circle cx="186.8" cy="414.9" r="2.2"/><circle cx="240.2" cy="352.7" r="2.6"/><circle cx="218.6" cy="403.3" r="3.6"/><circle cx="176.2" cy="415.1" r="3.0"/><circle cx="155.0" cy="374.4" r="3.0"/><circle cx="233.4" cy="422.8" r="4.0"/><circle cx="196.0" cy="363.3" r="2.8"/><circle cx="129.2" cy="367.4" r="3.6"/><circle cx="237.8" cy="403.0" r="4.0"/><circle cx="94.3" cy="348.8" r="2.8"/><circle cx="246.4" cy="345.8" r="2.2"/><circle cx="195.1" cy="411.5" r="2.6"/><circle cx="92.7" cy="368.4" r="2.6"/><circle cx="114.5" cy="423.1" r="4.2"/><circle cx="251.8" cy="400.2" r="3.2"/><circle cx="213.2" cy="360.1" r="3.6"/><circle cx="135.1" cy="357.6" r="3.6"/><circle cx="120.6" cy="416.5" r="2.4"/><circle cx="198.2" cy="370.8" r="3.8"/><circle cx="133.5" cy="399.2" r="3.8"/><circle cx="132.2" cy="417.0" r="2.2"/><circle cx="216.5" cy="383.1" r="3.8"/><circle cx="154.2" cy="340.7" r="2.8"/><circle cx="224.8" cy="418.4" r="2.2"/><circle cx="174.0" cy="376.4" r="2.6"/><circle cx="241.7" cy="334.6" r="4.2"/><circle cx="139.3" cy="417.2" r="3.8"/><circle cx="129.0" cy="329.5" r="2.2"/><circle cx="191.2" cy="377.5" r="2.6"/><circle cx="220.0" cy="393.3" r="4.2"/><circle cx="149.6" cy="335.6" r="2.8"/><circle cx="223.7" cy="331.7" r="2.0"/><circle cx="193.5" cy="390.8" r="3.6"/><circle cx="251.4" cy="419.8" r="4.2"/><circle cx="232.3" cy="397.9" r="3.8"/><circle cx="259.9" cy="408.0" r="2.8"/><circle cx="232.3" cy="358.6" r="2.4"/><circle cx="153.6" cy="322.7" r="2.4"/><circle cx="123.9" cy="408.1" r="4.0"/><circle cx="218.9" cy="345.5" r="3.4"/><circle cx="98.6" cy="422.3" r="3.4"/><circle cx="230.8" cy="366.5" r="2.4"/><circle cx="259.9" cy="332.0" r="3.2"/><circle cx="211.1" cy="355.5" r="2.0"/><circle cx="148.9" cy="399.9" r="2.2"/><circle cx="178.5" cy="327.3" r="2.0"/><circle cx="120.1" cy="340.5" r="3.4"/><circle cx="187.3" cy="352.2" r="1.8"/><circle cx="95.7" cy="326.2" r="2.4"/><circle cx="255.2" cy="321.5" r="3.8"/><circle cx="125.6" cy="380.0" r="3.8"/><circle cx="211.1" cy="329.6" r="2.6"/><circle cx="246.9" cy="338.4" r="2.2"/><circle cx="243.0" cy="369.7" r="2.0"/><circle cx="134.6" cy="373.4" r="2.8"/><circle cx="124.2" cy="348.8" r="3.6"/><circle cx="134.7" cy="362.9" r="4.0"/><circle cx="101.9" cy="357.8" r="2.4"/><circle cx="203.3" cy="330.3" r="3.6"/><circle cx="178.3" cy="340.0" r="2.2"/><circle cx="213.0" cy="377.5" r="2.4"/><circle cx="95.1" cy="334.6" r="2.0"/><circle cx="97.0" cy="393.8" r="2.8"/><circle cx="163.0" cy="396.4" r="2.8"/><circle cx="118.7" cy="365.4" r="3.8"/><circle cx="104.8" cy="369.8" r="3.8"/><circle cx="183.0" cy="402.0" r="1.8"/><circle cx="130.7" cy="334.3" r="2.2"/><circle cx="205.7" cy="416.9" r="4.2"/><circle cx="160.2" cy="368.1" r="3.4"/><circle cx="204.1" cy="405.6" r="3.8"/><circle cx="125.7" cy="322.5" r="2.8"/><circle cx="89.6" cy="404.8" r="4.0"/><circle cx="257.9" cy="371.0" r="4.0"/><circle cx="169.1" cy="399.3" r="2.8"/><circle cx="211.2" cy="383.8" r="3.8"/><circle cx="134.0" cy="394.0" r="2.4"/><circle cx="199.4" cy="321.4" r="3.0"/><circle cx="89.5" cy="399.6" r="4.0"/><circle cx="255.0" cy="345.2" r="3.6"/><circle cx="114.9" cy="331.0" r="3.8"/><circle cx="164.8" cy="386.7" r="2.6"/><circle cx="254.8" cy="334.1" r="2.8"/><circle cx="108.8" cy="347.2" r="2.4"/><circle cx="223.6" cy="397.2" r="3.0"/><circle cx="233.2" cy="322.7" r="2.0"/><circle cx="155.3" cy="346.5" r="4.0"/><circle cx="141.2" cy="345.2" r="2.6"/><circle cx="139.0" cy="328.6" r="3.8"/><circle cx="181.1" cy="335.8" r="2.6"/><circle cx="169.3" cy="357.9" r="3.2"/><circle cx="189.9" cy="365.9" r="3.2"/><circle cx="195.9" cy="358.0" r="2.4"/><circle cx="177.3" cy="381.5" r="3.4"/><circle cx="187.0" cy="370.3" r="2.8"/><circle cx="183.4" cy="385.4" r="2.4"/><circle cx="186.5" cy="379.5" r="2.8"/><circle cx="168.1" cy="340.9" r="2.6"/><circle cx="248.8" cy="325.1" r="4.4"/><circle cx="234.5" cy="377.4" r="4.0"/><circle cx="161.4" cy="375.5" r="2.2"/><circle cx="114.7" cy="397.1" r="3.8"/><circle cx="133.9" cy="405.4" r="3.2"/><circle cx="89.2" cy="380.5" r="3.6"/><circle cx="144.0" cy="423.3" r="4.4"/><circle cx="149.3" cy="375.2" r="2.0"/><circle cx="251.8" cy="350.8" r="2.0"/><circle cx="222.8" cy="406.1" r="3.6"/><circle cx="225.2" cy="358.3" r="2.8"/><circle cx="201.2" cy="360.7" r="3.2"/><circle cx="165.1" cy="322.1" r="3.4"/><circle cx="165.2" cy="417.3" r="2.2"/><circle cx="202.7" cy="379.7" r="3.8"/><circle cx="116.8" cy="403.6" r="2.4"/><circle cx="91.0" cy="359.1" r="2.2"/><circle cx="148.5" cy="341.9" r="2.4"/><circle cx="129.1" cy="391.4" r="3.4"/><circle cx="90.2" cy="393.8" r="2.0"/><circle cx="128.4" cy="421.5" r="2.2"/><circle cx="188.0" cy="323.2" r="2.0"/><circle cx="146.4" cy="362.8" r="2.8"/><circle cx="246.5" cy="409.2" r="2.2"/><circle cx="234.8" cy="333.5" r="4.2"/><circle cx="144.6" cy="372.9" r="2.8"/><circle cx="101.1" cy="374.7" r="3.0"/><circle cx="215.1" cy="350.2" r="2.4"/><circle cx="114.5" cy="415.3" r="2.0"/><circle cx="114.3" cy="336.7" r="4.2"/><circle cx="116.8" cy="345.7" r="2.6"/><circle cx="119.0" cy="390.3" r="2.0"/><circle cx="250.2" cy="364.5" r="2.2"/><circle cx="196.2" cy="351.5" r="2.8"/><circle cx="231.6" cy="386.9" r="3.0"/><circle cx="131.2" cy="410.7" r="3.0"/><circle cx="147.9" cy="330.1" r="3.2"/><circle cx="179.5" cy="363.8" r="3.6"/><circle cx="161.7" cy="390.7" r="3.8"/><circle cx="234.9" cy="371.2" r="2.6"/><circle cx="255.2" cy="405.4" r="2.2"/><circle cx="89.4" cy="325.5" r="4.2"/><circle cx="181.9" cy="370.1" r="3.4"/><circle cx="228.3" cy="327.6" r="2.8"/><circle cx="145.3" cy="409.6" r="2.0"/><circle cx="231.5" cy="412.9" r="3.4"/><circle cx="97.6" cy="363.3" r="3.8"/><circle cx="223.3" cy="374.7" r="2.6"/><circle cx="117.2" cy="358.4" r="3.8"/><circle cx="108.2" cy="321.9" r="4.2"/><circle cx="239.6" cy="330.1" r="2.4"/><circle cx="110.6" cy="365.5" r="2.2"/><circle cx="98.9" cy="368.8" r="4.4"/><circle cx="162.9" cy="338.6" r="2.2"/><circle cx="103.8" cy="335.1" r="4.0"/><circle cx="238.3" cy="385.3" r="3.0"/><circle cx="206.8" cy="397.8" r="2.0"/><circle cx="243.6" cy="391.7" r="4.0"/><circle cx="100.3" cy="342.0" r="4.2"/><circle cx="169.1" cy="335.0" r="4.0"/><circle cx="149.1" cy="385.4" r="4.2"/><circle cx="229.9" cy="353.3" r="2.4"/><circle cx="93.8" cy="383.3" r="3.8"/><circle cx="118.4" cy="375.0" r="3.2"/><circle cx="177.0" cy="345.0" r="3.8"/><circle cx="183.5" cy="408.6" r="3.0"/><circle cx="131.3" cy="353.0" r="3.8"/><circle cx="183.1" cy="357.9" r="4.0"/><circle cx="94.1" cy="340.1" r="2.4"/><circle cx="257.7" cy="355.5" r="3.0"/><circle cx="120.3" cy="381.2" r="3.2"/><circle cx="203.2" cy="369.9" r="3.8"/><circle cx="191.6" cy="416.7" r="2.4"/><circle cx="173.6" cy="361.6" r="3.2"/><circle cx="259.5" cy="326.5" r="2.0"/><circle cx="154.4" cy="390.5" r="2.0"/><circle cx="89.2" cy="344.8" r="3.4"/><circle cx="217.7" cy="397.8" r="3.8"/><circle cx="259.7" cy="342.6" r="2.2"/><circle cx="112.6" cy="324.5" r="3.0"/><circle cx="183.2" cy="325.7" r="3.4"/><circle cx="203.2" cy="341.4" r="3.6"/><circle cx="213.7" cy="344.1" r="4.2"/><circle cx="156.7" cy="409.0" r="4.0"/><circle cx="165.2" cy="403.3" r="2.4"/><circle cx="200.4" cy="354.1" r="2.8"/><circle cx="137.0" cy="367.5" r="4.0"/><circle cx="136.5" cy="333.2" r="3.4"/><circle cx="249.4" cy="414.5" r="3.4"/><circle cx="195.0" cy="384.8" r="2.2"/><circle cx="110.8" cy="383.5" r="3.6"/><circle cx="212.2" cy="371.8" r="2.8"/><circle cx="164.2" cy="380.5" r="2.6"/></g><g fill="#f02030" fill-opacity="0.9" filter="url(#bs)"><circle cx="245.1" cy="402.0" r="1.4"/><circle cx="184.9" cy="330.9" r="1.7"/><circle cx="200.6" cy="335.3" r="1.1"/><circle cx="245.5" cy="374.3" r="1.5"/><circle cx="137.7" cy="386.0" r="1.6"/><circle cx="166.4" cy="327.4" r="1.5"/><circle cx="203.0" cy="423.7" r="1.4"/><circle cx="252.2" cy="376.9" r="1.9"/><circle cx="104.2" cy="385.0" r="1.9"/><circle cx="224.2" cy="344.3" r="1.1"/><circle cx="179.6" cy="420.6" r="1.0"/><circle cx="217.5" cy="333.6" r="1.6"/><circle cx="159.2" cy="321.4" r="2.0"/><circle cx="188.4" cy="384.7" r="2.2"/><circle cx="136.1" cy="348.9" r="1.5"/><circle cx="215.8" cy="366.7" r="1.4"/><circle cx="259.1" cy="400.2" r="1.1"/><circle cx="90.2" cy="418.7" r="1.0"/><circle cx="164.4" cy="360.3" r="1.9"/><circle cx="221.7" cy="385.6" r="1.2"/><circle cx="230.1" cy="373.7" r="1.3"/><circle cx="244.3" cy="422.5" r="1.0"/><circle cx="151.7" cy="369.8" r="1.9"/><circle cx="209.0" cy="337.8" r="1.0"/><circle cx="227.8" cy="383.4" r="2.0"/><circle cx="90.4" cy="423.7" r="1.7"/><circle cx="191.1" cy="334.3" r="1.0"/><circle cx="95.5" cy="373.3" r="1.3"/><circle cx="200.6" cy="414.1" r="1.9"/><circle cx="103.9" cy="419.4" r="1.7"/><circle cx="210.2" cy="422.2" r="1.9"/><circle cx="205.3" cy="356.3" r="1.0"/><circle cx="183.2" cy="348.2" r="2.1"/><circle cx="189.8" cy="341.7" r="1.6"/><circle cx="212.2" cy="398.7" r="1.9"/><circle cx="253.5" cy="358.8" r="1.9"/><circle cx="237.7" cy="337.9" r="1.7"/><circle cx="174.5" cy="352.4" r="2.2"/><circle cx="113.4" cy="372.2" r="1.9"/><circle cx="123.9" cy="388.8" r="2.1"/><circle cx="121.0" cy="422.1" r="1.2"/><circle cx="154.8" cy="385.0" r="1.6"/><circle cx="140.3" cy="411.0" r="1.3"/><circle cx="159.4" cy="422.3" r="1.6"/><circle cx="180.9" cy="376.4" r="1.5"/><circle cx="194.4" cy="399.9" r="2.2"/><circle cx="103.0" cy="404.6" r="1.3"/><circle cx="147.2" cy="392.8" r="1.3"/><circle cx="141.4" cy="335.5" r="1.9"/><circle cx="219.4" cy="416.3" r="1.3"/><circle cx="94.4" cy="389.2" r="1.2"/><circle cx="95.3" cy="408.4" r="1.6"/><circle cx="115.1" cy="380.2" r="1.2"/><circle cx="125.2" cy="371.8" r="1.9"/><circle cx="124.7" cy="401.4" r="1.5"/><circle cx="186.3" cy="337.9" r="2.0"/><circle cx="103.1" cy="399.4" r="1.3"/><circle cx="187.5" cy="420.8" r="1.9"/><circle cx="201.6" cy="396.4" r="1.6"/><circle cx="148.8" cy="357.2" r="1.0"/><circle cx="193.8" cy="324.9" r="1.9"/><circle cx="154.2" cy="330.0" r="2.1"/><circle cx="196.6" cy="342.5" r="1.5"/><circle cx="203.6" cy="346.4" r="1.7"/><circle cx="135.3" cy="323.1" r="1.1"/><circle cx="189.0" cy="358.6" r="1.6"/><circle cx="159.4" cy="381.7" r="2.2"/><circle cx="256.1" cy="423.8" r="1.9"/><circle cx="214.0" cy="414.9" r="1.0"/><circle cx="247.4" cy="330.6" r="1.3"/><circle cx="170.5" cy="414.0" r="1.2"/><circle cx="177.9" cy="357.1" r="1.1"/><circle cx="219.1" cy="355.9" r="1.6"/><circle cx="232.4" cy="346.9" r="1.6"/><circle cx="127.3" cy="415.1" r="2.1"/><circle cx="141.8" cy="403.2" r="1.5"/><circle cx="171.8" cy="344.5" r="2.1"/><circle cx="206.1" cy="390.7" r="1.9"/><circle cx="98.6" cy="414.0" r="1.5"/><circle cx="210.5" cy="348.0" r="1.6"/><circle cx="148.8" cy="348.5" r="1.2"/><circle cx="200.4" cy="386.1" r="2.2"/><circle cx="164.4" cy="332.2" r="1.6"/><circle cx="143.2" cy="367.6" r="1.6"/><circle cx="231.4" cy="340.8" r="1.9"/><circle cx="195.2" cy="420.6" r="2.0"/><circle cx="158.6" cy="333.6" r="1.5"/><circle cx="130.8" cy="386.2" r="1.7"/><circle cx="111.4" cy="410.2" r="1.2"/><circle cx="173.8" cy="386.4" r="1.1"/><circle cx="161.9" cy="344.6" r="2.0"/><circle cx="233.7" cy="328.6" r="1.7"/><circle cx="183.7" cy="390.9" r="1.4"/><circle cx="150.8" cy="422.0" r="1.2"/><circle cx="168.2" cy="422.3" r="1.7"/><circle cx="166.2" cy="370.8" r="1.5"/><circle cx="256.5" cy="364.7" r="1.9"/><circle cx="239.2" cy="360.6" r="2.1"/><circle cx="184.9" cy="364.5" r="1.6"/><circle cx="237.9" cy="391.4" r="0.9"/><circle cx="114.2" cy="388.2" r="1.7"/><circle cx="216.2" cy="388.2" r="1.8"/><circle cx="197.5" cy="377.6" r="1.0"/><circle cx="174.8" cy="333.9" r="2.0"/><circle cx="197.2" cy="330.7" r="2.0"/><circle cx="241.0" cy="407.2" r="1.8"/><circle cx="170.8" cy="382.4" r="1.4"/><circle cx="192.5" cy="406.0" r="1.8"/><circle cx="144.0" cy="387.1" r="1.0"/><circle cx="109.6" cy="404.2" r="1.4"/><circle cx="134.7" cy="340.1" r="2.0"/><circle cx="104.6" cy="390.8" r="1.9"/><circle cx="246.1" cy="361.3" r="1.8"/><circle cx="130.6" cy="378.2" r="1.3"/><circle cx="114.2" cy="350.4" r="2.0"/><circle cx="259.3" cy="387.3" r="1.5"/><circle cx="258.7" cy="417.0" r="0.9"/><circle cx="240.1" cy="346.8" r="2.1"/><circle cx="253.1" cy="338.8" r="1.9"/><circle cx="224.2" cy="352.7" r="1.3"/><circle cx="160.2" cy="402.7" r="1.5"/><circle cx="188.5" cy="399.1" r="1.5"/><circle cx="136.6" cy="423.7" r="1.8"/><circle cx="254.6" cy="328.2" r="2.0"/><circle cx="219.9" cy="379.1" r="2.0"/><circle cx="222.1" cy="326.6" r="2.1"/><circle cx="108.6" cy="377.6" r="1.0"/><circle cx="239.2" cy="374.3" r="2.0"/><circle cx="121.3" cy="335.2" r="2.1"/><circle cx="170.1" cy="404.9" r="2.2"/><circle cx="204.9" cy="325.0" r="1.3"/><circle cx="237.9" cy="365.9" r="1.8"/><circle cx="208.7" cy="367.4" r="2.1"/><circle cx="106.3" cy="412.2" r="1.5"/><circle cx="242.1" cy="382.0" r="1.7"/><circle cx="124.9" cy="354.0" r="1.4"/><circle cx="144.9" cy="415.5" r="1.1"/><circle cx="124.6" cy="343.7" r="1.4"/><circle cx="156.3" cy="395.7" r="1.8"/><circle cx="99.0" cy="381.9" r="2.0"/><circle cx="258.8" cy="380.9" r="2.0"/><circle cx="253.3" cy="410.3" r="1.3"/><circle cx="227.4" cy="408.4" r="1.0"/><circle cx="177.8" cy="397.1" r="1.8"/><circle cx="125.8" cy="338.5" r="2.1"/><circle cx="176.1" cy="368.9" r="2.0"/><circle cx="140.2" cy="375.4" r="1.5"/><circle cx="140.7" cy="360.3" r="1.2"/><circle cx="226.9" cy="391.4" r="1.7"/><circle cx="143.2" cy="380.4" r="1.2"/><circle cx="117.0" cy="409.2" r="1.6"/><circle cx="251.9" cy="394.0" r="1.3"/><circle cx="218.9" cy="372.3" r="1.4"/><circle cx="167.5" cy="348.1" r="1.6"/><circle cx="217.0" cy="408.4" r="1.0"/><circle cx="109.7" cy="419.7" r="0.9"/><circle cx="108.4" cy="398.9" r="1.1"/><circle cx="220.9" cy="337.8" r="2.1"/><circle cx="150.5" cy="405.4" r="1.8"/><circle cx="176.8" cy="408.5" r="1.5"/><circle cx="207.2" cy="374.5" r="1.3"/><circle cx="251.8" cy="385.8" r="1.5"/><circle cx="160.0" cy="413.9" r="1.4"/><circle cx="89.2" cy="387.3" r="1.5"/><circle cx="246.1" cy="385.7" r="1.5"/><circle cx="247.1" cy="354.1" r="1.1"/><circle cx="153.1" cy="363.0" r="1.0"/><circle cx="127.4" cy="359.7" r="2.1"/><circle cx="209.2" cy="410.2" r="1.2"/><circle cx="239.5" cy="324.1" r="1.8"/><circle cx="173.4" cy="423.9" r="1.4"/><circle cx="228.6" cy="335.1" r="1.9"/><circle cx="163.8" cy="352.6" r="1.0"/><circle cx="258.2" cy="350.1" r="2.2"/><circle cx="243.3" cy="415.3" r="1.6"/><circle cx="153.0" cy="414.6" r="1.9"/><circle cx="124.4" cy="395.4" r="1.4"/><circle cx="239.1" cy="421.9" r="1.1"/><circle cx="220.8" cy="361.9" r="1.2"/><circle cx="141.4" cy="394.4" r="1.1"/><circle cx="213.8" cy="324.0" r="1.4"/><circle cx="225.4" cy="365.1" r="1.5"/><circle cx="162.9" cy="409.0" r="1.6"/><circle cx="172.2" cy="322.7" r="1.6"/><circle cx="89.4" cy="374.1" r="1.7"/><circle cx="191.5" cy="348.4" r="2.1"/><circle cx="129.1" cy="346.1" r="1.8"/><circle cx="168.7" cy="363.3" r="1.9"/><circle cx="91.2" cy="413.0" r="1.5"/><circle cx="143.9" cy="321.9" r="1.6"/><circle cx="136.6" cy="379.2" r="2.1"/><circle cx="234.0" cy="408.5" r="1.2"/><circle cx="141.8" cy="352.5" r="0.9"/><circle cx="119.7" cy="328.8" r="1.2"/><circle cx="157.5" cy="358.2" r="1.5"/><circle cx="238.6" cy="397.2" r="1.8"/><circle cx="97.6" cy="401.9" r="1.4"/><circle cx="236.4" cy="415.0" r="1.1"/><circle cx="153.1" cy="354.1" r="1.7"/><circle cx="186.8" cy="414.9" r="1.1"/><circle cx="240.2" cy="352.7" r="1.3"/><circle cx="218.6" cy="403.3" r="1.8"/><circle cx="176.2" cy="415.1" r="1.5"/><circle cx="155.0" cy="374.4" r="1.5"/><circle cx="233.4" cy="422.8" r="2.0"/><circle cx="196.0" cy="363.3" r="1.4"/><circle cx="129.2" cy="367.4" r="1.8"/><circle cx="237.8" cy="403.0" r="2.0"/><circle cx="94.3" cy="348.8" r="1.4"/><circle cx="246.4" cy="345.8" r="1.1"/><circle cx="195.1" cy="411.5" r="1.3"/><circle cx="92.7" cy="368.4" r="1.3"/><circle cx="114.5" cy="423.1" r="2.1"/><circle cx="251.8" cy="400.2" r="1.6"/><circle cx="213.2" cy="360.1" r="1.8"/><circle cx="135.1" cy="357.6" r="1.8"/><circle cx="120.6" cy="416.5" r="1.2"/><circle cx="198.2" cy="370.8" r="1.9"/><circle cx="133.5" cy="399.2" r="1.9"/><circle cx="132.2" cy="417.0" r="1.1"/><circle cx="216.5" cy="383.1" r="1.9"/><circle cx="154.2" cy="340.7" r="1.4"/><circle cx="224.8" cy="418.4" r="1.1"/><circle cx="174.0" cy="376.4" r="1.3"/><circle cx="241.7" cy="334.6" r="2.1"/><circle cx="139.3" cy="417.2" r="1.9"/><circle cx="129.0" cy="329.5" r="1.1"/><circle cx="191.2" cy="377.5" r="1.3"/><circle cx="220.0" cy="393.3" r="2.1"/><circle cx="149.6" cy="335.6" r="1.4"/><circle cx="223.7" cy="331.7" r="1.0"/><circle cx="193.5" cy="390.8" r="1.8"/><circle cx="251.4" cy="419.8" r="2.1"/><circle cx="232.3" cy="397.9" r="1.9"/><circle cx="259.9" cy="408.0" r="1.4"/><circle cx="232.3" cy="358.6" r="1.2"/><circle cx="153.6" cy="322.7" r="1.2"/><circle cx="123.9" cy="408.1" r="2.0"/><circle cx="218.9" cy="345.5" r="1.7"/><circle cx="98.6" cy="422.3" r="1.7"/><circle cx="230.8" cy="366.5" r="1.2"/><circle cx="259.9" cy="332.0" r="1.6"/><circle cx="211.1" cy="355.5" r="1.0"/><circle cx="148.9" cy="399.9" r="1.1"/><circle cx="178.5" cy="327.3" r="1.0"/><circle cx="120.1" cy="340.5" r="1.7"/><circle cx="187.3" cy="352.2" r="0.9"/><circle cx="95.7" cy="326.2" r="1.2"/><circle cx="255.2" cy="321.5" r="1.9"/><circle cx="125.6" cy="380.0" r="1.9"/><circle cx="211.1" cy="329.6" r="1.3"/><circle cx="246.9" cy="338.4" r="1.1"/><circle cx="243.0" cy="369.7" r="1.0"/><circle cx="134.6" cy="373.4" r="1.4"/><circle cx="124.2" cy="348.8" r="1.8"/><circle cx="134.7" cy="362.9" r="2.0"/><circle cx="101.9" cy="357.8" r="1.2"/><circle cx="203.3" cy="330.3" r="1.8"/><circle cx="178.3" cy="340.0" r="1.1"/><circle cx="213.0" cy="377.5" r="1.2"/><circle cx="95.1" cy="334.6" r="1.0"/><circle cx="97.0" cy="393.8" r="1.4"/><circle cx="163.0" cy="396.4" r="1.4"/><circle cx="118.7" cy="365.4" r="1.9"/><circle cx="104.8" cy="369.8" r="1.9"/><circle cx="183.0" cy="402.0" r="0.9"/><circle cx="130.7" cy="334.3" r="1.1"/><circle cx="205.7" cy="416.9" r="2.1"/><circle cx="160.2" cy="368.1" r="1.7"/><circle cx="204.1" cy="405.6" r="1.9"/><circle cx="125.7" cy="322.5" r="1.4"/><circle cx="89.6" cy="404.8" r="2.0"/><circle cx="257.9" cy="371.0" r="2.0"/><circle cx="169.1" cy="399.3" r="1.4"/><circle cx="211.2" cy="383.8" r="1.9"/><circle cx="134.0" cy="394.0" r="1.2"/><circle cx="199.4" cy="321.4" r="1.5"/><circle cx="89.5" cy="399.6" r="2.0"/><circle cx="255.0" cy="345.2" r="1.8"/><circle cx="114.9" cy="331.0" r="1.9"/><circle cx="164.8" cy="386.7" r="1.3"/><circle cx="254.8" cy="334.1" r="1.4"/><circle cx="108.8" cy="347.2" r="1.2"/><circle cx="223.6" cy="397.2" r="1.5"/><circle cx="233.2" cy="322.7" r="1.0"/><circle cx="155.3" cy="346.5" r="2.0"/><circle cx="141.2" cy="345.2" r="1.3"/><circle cx="139.0" cy="328.6" r="1.9"/><circle cx="181.1" cy="335.8" r="1.3"/><circle cx="169.3" cy="357.9" r="1.6"/><circle cx="189.9" cy="365.9" r="1.6"/><circle cx="195.9" cy="358.0" r="1.2"/><circle cx="177.3" cy="381.5" r="1.7"/><circle cx="187.0" cy="370.3" r="1.4"/><circle cx="183.4" cy="385.4" r="1.2"/><circle cx="186.5" cy="379.5" r="1.4"/><circle cx="168.1" cy="340.9" r="1.3"/><circle cx="248.8" cy="325.1" r="2.2"/><circle cx="234.5" cy="377.4" r="2.0"/><circle cx="161.4" cy="375.5" r="1.1"/><circle cx="114.7" cy="397.1" r="1.9"/><circle cx="133.9" cy="405.4" r="1.6"/><circle cx="89.2" cy="380.5" r="1.8"/><circle cx="144.0" cy="423.3" r="2.2"/><circle cx="149.3" cy="375.2" r="1.0"/><circle cx="251.8" cy="350.8" r="1.0"/><circle cx="222.8" cy="406.1" r="1.8"/><circle cx="225.2" cy="358.3" r="1.4"/><circle cx="201.2" cy="360.7" r="1.6"/><circle cx="165.1" cy="322.1" r="1.7"/><circle cx="165.2" cy="417.3" r="1.1"/><circle cx="202.7" cy="379.7" r="1.9"/><circle cx="116.8" cy="403.6" r="1.2"/><circle cx="91.0" cy="359.1" r="1.1"/><circle cx="148.5" cy="341.9" r="1.2"/><circle cx="129.1" cy="391.4" r="1.7"/><circle cx="90.2" cy="393.8" r="1.0"/><circle cx="128.4" cy="421.5" r="1.1"/><circle cx="188.0" cy="323.2" r="1.0"/><circle cx="146.4" cy="362.8" r="1.4"/><circle cx="246.5" cy="409.2" r="1.1"/><circle cx="234.8" cy="333.5" r="2.1"/><circle cx="144.6" cy="372.9" r="1.4"/><circle cx="101.1" cy="374.7" r="1.5"/><circle cx="215.1" cy="350.2" r="1.2"/><circle cx="114.5" cy="415.3" r="1.0"/><circle cx="114.3" cy="336.7" r="2.1"/><circle cx="116.8" cy="345.7" r="1.3"/><circle cx="119.0" cy="390.3" r="1.0"/><circle cx="250.2" cy="364.5" r="1.1"/><circle cx="196.2" cy="351.5" r="1.4"/><circle cx="231.6" cy="386.9" r="1.5"/><circle cx="131.2" cy="410.7" r="1.5"/><circle cx="147.9" cy="330.1" r="1.6"/><circle cx="179.5" cy="363.8" r="1.8"/><circle cx="161.7" cy="390.7" r="1.9"/><circle cx="234.9" cy="371.2" r="1.3"/><circle cx="255.2" cy="405.4" r="1.1"/><circle cx="89.4" cy="325.5" r="2.1"/><circle cx="181.9" cy="370.1" r="1.7"/><circle cx="228.3" cy="327.6" r="1.4"/><circle cx="145.3" cy="409.6" r="1.0"/><circle cx="231.5" cy="412.9" r="1.7"/><circle cx="97.6" cy="363.3" r="1.9"/><circle cx="223.3" cy="374.7" r="1.3"/><circle cx="117.2" cy="358.4" r="1.9"/><circle cx="108.2" cy="321.9" r="2.1"/><circle cx="239.6" cy="330.1" r="1.2"/><circle cx="110.6" cy="365.5" r="1.1"/><circle cx="98.9" cy="368.8" r="2.2"/><circle cx="162.9" cy="338.6" r="1.1"/><circle cx="103.8" cy="335.1" r="2.0"/><circle cx="238.3" cy="385.3" r="1.5"/><circle cx="206.8" cy="397.8" r="1.0"/><circle cx="243.6" cy="391.7" r="2.0"/><circle cx="100.3" cy="342.0" r="2.1"/><circle cx="169.1" cy="335.0" r="2.0"/><circle cx="149.1" cy="385.4" r="2.1"/><circle cx="229.9" cy="353.3" r="1.2"/><circle cx="93.8" cy="383.3" r="1.9"/><circle cx="118.4" cy="375.0" r="1.6"/><circle cx="177.0" cy="345.0" r="1.9"/><circle cx="183.5" cy="408.6" r="1.5"/><circle cx="131.3" cy="353.0" r="1.9"/><circle cx="183.1" cy="357.9" r="2.0"/><circle cx="94.1" cy="340.1" r="1.2"/><circle cx="257.7" cy="355.5" r="1.5"/><circle cx="120.3" cy="381.2" r="1.6"/><circle cx="203.2" cy="369.9" r="1.9"/><circle cx="191.6" cy="416.7" r="1.2"/><circle cx="173.6" cy="361.6" r="1.6"/><circle cx="259.5" cy="326.5" r="1.0"/><circle cx="154.4" cy="390.5" r="1.0"/><circle cx="89.2" cy="344.8" r="1.7"/><circle cx="217.7" cy="397.8" r="1.9"/><circle cx="259.7" cy="342.6" r="1.1"/><circle cx="112.6" cy="324.5" r="1.5"/><circle cx="183.2" cy="325.7" r="1.7"/><circle cx="203.2" cy="341.4" r="1.8"/><circle cx="213.7" cy="344.1" r="2.1"/><circle cx="156.7" cy="409.0" r="2.0"/><circle cx="165.2" cy="403.3" r="1.2"/><circle cx="200.4" cy="354.1" r="1.4"/><circle cx="137.0" cy="367.5" r="2.0"/><circle cx="136.5" cy="333.2" r="1.7"/><circle cx="249.4" cy="414.5" r="1.7"/><circle cx="195.0" cy="384.8" r="1.1"/><circle cx="110.8" cy="383.5" r="1.8"/><circle cx="212.2" cy="371.8" r="1.4"/><circle cx="164.2" cy="380.5" r="1.3"/></g></g><g clip-path="url(#cd12)"><rect x="265.5" y="323.8" width="166.5" height="97.7" fill="#040208"/><rect x="265.5" y="323.8" width="166.5" height="97.7" fill="#1a20a0" opacity="0.12"/><path d="M258.0,354.0 264.8,354.8 296.8,359.5 327.0,371.0 354.9,387.4 382.8,403.6 413.0,412.9 436.0,415.2" fill="none" stroke="#121c98" stroke-width="15.299999999999999" stroke-opacity="0.5850000000000001" stroke-linecap="round" stroke-linejoin="round" filter="url(#bl)"/><g fill="#f02030" fill-opacity="0.3" filter="url(#bh)"><circle cx="393.7" cy="324.4" r="2.6"/><circle cx="424.4" cy="352.0" r="2.2"/><circle cx="272.9" cy="387.1" r="3.2"/><circle cx="373.2" cy="337.6" r="4.2"/><circle cx="404.2" cy="357.7" r="4.0"/><circle cx="273.9" cy="371.6" r="4.0"/><circle cx="290.2" cy="411.4" r="1.8"/><circle cx="329.9" cy="418.0" r="2.0"/><circle cx="321.6" cy="341.9" r="3.2"/><circle cx="329.0" cy="350.1" r="4.0"/><circle cx="270.9" cy="421.4" r="3.2"/><circle cx="363.7" cy="364.4" r="2.8"/><circle cx="309.4" cy="395.7" r="2.0"/><circle cx="409.2" cy="405.7" r="4.2"/><circle cx="321.6" cy="360.0" r="3.6"/><circle cx="368.7" cy="331.3" r="2.4"/><circle cx="359.2" cy="354.0" r="3.6"/><circle cx="281.6" cy="345.9" r="2.2"/><circle cx="270.0" cy="396.4" r="4.0"/><circle cx="367.5" cy="340.7" r="2.6"/><circle cx="303.4" cy="366.0" r="3.2"/><circle cx="345.7" cy="402.7" r="2.8"/><circle cx="422.3" cy="415.2" r="3.0"/><circle cx="342.3" cy="411.1" r="4.0"/><circle cx="281.9" cy="330.9" r="4.4"/><circle cx="396.1" cy="371.0" r="2.2"/><circle cx="426.5" cy="325.6" r="4.2"/><circle cx="326.5" cy="401.8" r="2.8"/><circle cx="300.1" cy="349.0" r="3.6"/><circle cx="297.6" cy="385.1" r="2.4"/><circle cx="415.4" cy="403.9" r="2.8"/><circle cx="351.2" cy="351.7" r="4.0"/><circle cx="284.2" cy="381.9" r="3.6"/><circle cx="340.7" cy="331.7" r="4.0"/><circle cx="369.3" cy="324.6" r="3.8"/><circle cx="368.0" cy="417.7" r="3.6"/><circle cx="316.9" cy="380.7" r="2.6"/><circle cx="374.7" cy="322.6" r="3.6"/><circle cx="298.8" cy="360.7" r="2.6"/><circle cx="384.8" cy="406.7" r="3.8"/><circle cx="278.0" cy="399.6" r="3.2"/><circle cx="296.7" cy="400.9" r="3.2"/><circle cx="316.8" cy="391.8" r="2.4"/><circle cx="393.3" cy="392.2" r="4.0"/><circle cx="382.0" cy="396.8" r="4.0"/><circle cx="270.7" cy="323.8" r="2.2"/><circle cx="267.1" cy="410.5" r="3.4"/><circle cx="385.3" cy="357.4" r="2.4"/><circle cx="369.3" cy="360.2" r="3.6"/><circle cx="302.5" cy="401.2" r="2.6"/><circle cx="398.4" cy="409.2" r="4.0"/><circle cx="353.3" cy="341.0" r="3.4"/><circle cx="326.8" cy="407.5" r="3.6"/><circle cx="295.2" cy="327.2" r="4.4"/><circle cx="321.0" cy="417.9" r="3.0"/><circle cx="301.2" cy="396.0" r="2.6"/><circle cx="362.2" cy="422.5" r="2.0"/><circle cx="288.2" cy="399.1" r="3.6"/><circle cx="295.1" cy="390.6" r="2.4"/><circle cx="419.1" cy="419.6" r="3.6"/><circle cx="433.5" cy="406.7" r="3.4"/><circle cx="346.2" cy="380.9" r="3.0"/><circle cx="357.4" cy="418.1" r="4.0"/><circle cx="339.5" cy="347.9" r="3.2"/><circle cx="300.1" cy="372.7" r="2.4"/><circle cx="415.2" cy="373.9" r="4.0"/><circle cx="374.6" cy="409.3" r="2.2"/><circle cx="354.8" cy="362.6" r="4.0"/><circle cx="335.6" cy="328.8" r="4.2"/><circle cx="309.1" cy="380.2" r="2.4"/><circle cx="396.4" cy="423.1" r="2.0"/><circle cx="369.1" cy="422.8" r="2.2"/><circle cx="298.7" cy="420.8" r="3.0"/><circle cx="304.3" cy="340.7" r="3.0"/><circle cx="265.3" cy="387.6" r="4.2"/><circle cx="387.0" cy="332.1" r="4.2"/><circle cx="381.7" cy="342.9" r="2.6"/><circle cx="299.0" cy="378.7" r="3.8"/><circle cx="421.0" cy="368.1" r="3.6"/><circle cx="357.3" cy="325.0" r="2.2"/><circle cx="275.3" cy="415.2" r="2.0"/><circle cx="363.7" cy="409.9" r="2.6"/><circle cx="410.5" cy="384.1" r="2.2"/><circle cx="337.5" cy="399.3" r="4.2"/><circle cx="378.0" cy="330.2" r="2.6"/><circle cx="386.4" cy="368.0" r="3.4"/><circle cx="331.4" cy="354.8" r="2.2"/><circle cx="304.8" cy="421.2" r="2.4"/><circle cx="371.7" cy="371.6" r="3.6"/><circle cx="354.9" cy="334.8" r="3.4"/><circle cx="306.2" cy="354.1" r="3.6"/><circle cx="358.0" cy="404.8" r="2.2"/><circle cx="377.8" cy="371.4" r="4.2"/><circle cx="369.6" cy="399.0" r="2.6"/><circle cx="350.9" cy="402.0" r="2.8"/><circle cx="422.8" cy="400.8" r="2.6"/><circle cx="406.0" cy="414.9" r="3.8"/><circle cx="365.8" cy="374.8" r="3.2"/><circle cx="342.1" cy="386.8" r="2.2"/><circle cx="286.5" cy="352.9" r="4.4"/><circle cx="429.2" cy="378.1" r="4.0"/><circle cx="369.4" cy="385.9" r="2.6"/><circle cx="363.4" cy="325.2" r="3.2"/><circle cx="418.9" cy="378.4" r="2.0"/><circle cx="324.1" cy="395.3" r="3.4"/><circle cx="419.3" cy="394.1" r="4.0"/><circle cx="411.5" cy="345.8" r="3.6"/><circle cx="280.1" cy="360.0" r="3.4"/><circle cx="357.4" cy="371.9" r="3.8"/><circle cx="347.1" cy="357.6" r="2.4"/><circle cx="397.0" cy="361.3" r="4.0"/><circle cx="311.2" cy="401.0" r="2.0"/><circle cx="271.0" cy="378.7" r="4.2"/><circle cx="396.2" cy="344.5" r="3.2"/><circle cx="283.9" cy="421.4" r="3.6"/><circle cx="359.4" cy="412.9" r="2.6"/><circle cx="427.3" cy="384.9" r="3.4"/><circle cx="274.0" cy="349.6" r="2.6"/><circle cx="329.1" cy="340.5" r="3.8"/><circle cx="276.9" cy="405.8" r="2.0"/><circle cx="320.8" cy="322.9" r="3.2"/><circle cx="431.5" cy="392.2" r="3.8"/><circle cx="333.9" cy="405.2" r="3.0"/><circle cx="390.6" cy="403.9" r="4.0"/><circle cx="288.1" cy="330.9" r="3.4"/><circle cx="420.5" cy="337.6" r="3.2"/><circle cx="417.0" cy="360.8" r="4.0"/><circle cx="263.9" cy="322.5" r="4.0"/><circle cx="349.9" cy="418.8" r="3.6"/><circle cx="429.7" cy="364.3" r="3.6"/><circle cx="385.5" cy="412.8" r="3.6"/><circle cx="407.7" cy="389.9" r="3.4"/><circle cx="405.7" cy="380.2" r="2.6"/><circle cx="423.3" cy="362.2" r="3.2"/><circle cx="387.2" cy="344.6" r="3.8"/><circle cx="379.2" cy="349.0" r="3.2"/><circle cx="334.6" cy="363.8" r="1.8"/><circle cx="323.1" cy="336.1" r="2.4"/><circle cx="412.1" cy="412.1" r="2.4"/><circle cx="296.8" cy="407.9" r="3.2"/><circle cx="282.3" cy="392.1" r="4.4"/><circle cx="358.9" cy="345.2" r="2.6"/><circle cx="353.0" cy="388.2" r="2.2"/><circle cx="344.9" cy="343.9" r="2.2"/><circle cx="388.5" cy="388.8" r="4.0"/><circle cx="329.5" cy="378.6" r="2.4"/><circle cx="279.6" cy="324.3" r="4.0"/><circle cx="346.8" cy="364.1" r="3.0"/><circle cx="318.4" cy="405.3" r="3.0"/><circle cx="341.5" cy="356.1" r="3.2"/><circle cx="341.8" cy="324.9" r="4.2"/><circle cx="382.0" cy="336.9" r="2.0"/><circle cx="337.3" cy="418.0" r="2.0"/><circle cx="304.9" cy="325.2" r="2.6"/><circle cx="293.2" cy="335.1" r="2.4"/><circle cx="323.9" cy="379.7" r="4.2"/><circle cx="314.5" cy="335.4" r="2.2"/><circle cx="426.6" cy="396.4" r="3.6"/><circle cx="334.0" cy="387.8" r="2.6"/><circle cx="342.4" cy="339.0" r="4.0"/><circle cx="267.8" cy="330.9" r="3.0"/><circle cx="313.1" cy="348.7" r="4.4"/><circle cx="335.8" cy="343.4" r="4.0"/><circle cx="383.7" cy="420.1" r="2.8"/><circle cx="290.1" cy="379.6" r="2.2"/><circle cx="431.5" cy="401.4" r="2.8"/><circle cx="276.4" cy="366.3" r="2.2"/><circle cx="275.1" cy="335.4" r="3.6"/><circle cx="401.2" cy="384.5" r="2.4"/><circle cx="326.5" cy="323.2" r="4.2"/><circle cx="393.4" cy="386.8" r="2.2"/><circle cx="408.7" cy="375.4" r="2.8"/><circle cx="376.4" cy="416.1" r="3.8"/><circle cx="329.8" cy="395.3" r="4.2"/><circle cx="316.4" cy="340.3" r="4.0"/><circle cx="397.5" cy="399.3" r="3.6"/><circle cx="391.3" cy="379.6" r="3.8"/><circle cx="429.3" cy="412.4" r="2.0"/><circle cx="366.3" cy="353.0" r="2.2"/><circle cx="310.6" cy="417.3" r="2.2"/><circle cx="345.2" cy="334.6" r="2.8"/><circle cx="345.6" cy="395.0" r="4.4"/><circle cx="313.1" cy="410.9" r="2.2"/><circle cx="286.3" cy="374.5" r="2.0"/><circle cx="349.3" cy="323.6" r="2.8"/><circle cx="402.6" cy="370.3" r="3.6"/><circle cx="388.4" cy="395.5" r="3.8"/><circle cx="410.3" cy="396.5" r="4.0"/><circle cx="360.5" cy="390.3" r="4.2"/><circle cx="403.1" cy="422.1" r="4.0"/><circle cx="285.4" cy="409.3" r="4.4"/><circle cx="352.8" cy="328.4" r="3.2"/><circle cx="379.9" cy="378.6" r="2.6"/><circle cx="375.0" cy="386.7" r="3.2"/><circle cx="313.9" cy="367.0" r="4.0"/><circle cx="293.0" cy="349.8" r="3.8"/><circle cx="277.5" cy="383.7" r="2.2"/><circle cx="334.7" cy="410.6" r="4.0"/><circle cx="347.4" cy="388.0" r="3.0"/><circle cx="288.4" cy="361.7" r="2.4"/><circle cx="399.8" cy="417.9" r="2.6"/><circle cx="371.8" cy="352.0" r="3.8"/><circle cx="335.3" cy="377.7" r="3.6"/><circle cx="268.7" cy="337.8" r="3.6"/><circle cx="279.4" cy="410.8" r="4.2"/><circle cx="346.7" cy="329.4" r="3.4"/><circle cx="321.0" cy="385.2" r="3.2"/><circle cx="370.5" cy="404.8" r="3.4"/><circle cx="318.8" cy="328.2" r="2.8"/><circle cx="295.3" cy="413.7" r="3.0"/><circle cx="306.0" cy="407.6" r="3.0"/><circle cx="268.9" cy="416.0" r="4.2"/><circle cx="361.7" cy="395.9" r="2.8"/><circle cx="296.8" cy="368.3" r="4.2"/><circle cx="362.4" cy="334.8" r="4.0"/><circle cx="304.7" cy="346.4" r="3.0"/><circle cx="391.6" cy="361.1" r="3.0"/><circle cx="288.4" cy="340.3" r="3.8"/><circle cx="361.0" cy="377.1" r="2.0"/><circle cx="265.2" cy="376.4" r="3.4"/><circle cx="283.9" cy="414.6" r="2.4"/><circle cx="268.1" cy="370.0" r="3.8"/><circle cx="356.6" cy="397.7" r="3.6"/><circle cx="270.9" cy="363.8" r="4.0"/><circle cx="278.5" cy="339.7" r="2.2"/><circle cx="386.8" cy="375.0" r="3.8"/><circle cx="429.0" cy="349.1" r="2.4"/><circle cx="328.0" cy="390.2" r="2.0"/><circle cx="390.2" cy="422.8" r="4.2"/><circle cx="291.7" cy="420.4" r="2.2"/><circle cx="412.0" cy="364.2" r="2.4"/><circle cx="381.1" cy="384.7" r="2.6"/><circle cx="404.5" cy="394.4" r="3.0"/><circle cx="415.0" cy="352.4" r="2.2"/><circle cx="399.7" cy="336.9" r="2.2"/><circle cx="312.9" cy="359.5" r="2.4"/><circle cx="369.6" cy="411.4" r="3.8"/><circle cx="349.8" cy="369.5" r="3.8"/><circle cx="331.2" cy="333.7" r="4.2"/><circle cx="410.1" cy="326.0" r="2.8"/><circle cx="400.0" cy="328.5" r="2.6"/><circle cx="409.1" cy="354.8" r="2.6"/><circle cx="433.4" cy="351.9" r="3.2"/><circle cx="433.6" cy="357.9" r="4.2"/><circle cx="307.4" cy="413.0" r="2.2"/><circle cx="433.7" cy="341.6" r="2.6"/><circle cx="372.7" cy="364.7" r="4.0"/><circle cx="290.5" cy="393.9" r="3.0"/><circle cx="339.7" cy="365.4" r="2.4"/><circle cx="423.8" cy="391.0" r="4.4"/><circle cx="288.6" cy="386.0" r="2.8"/><circle cx="374.7" cy="357.6" r="4.2"/><circle cx="304.9" cy="390.8" r="4.0"/><circle cx="320.6" cy="351.4" r="3.8"/><circle cx="271.8" cy="408.0" r="2.0"/><circle cx="414.2" cy="339.8" r="3.0"/><circle cx="316.7" cy="397.4" r="3.0"/><circle cx="280.4" cy="373.1" r="2.4"/><circle cx="369.0" cy="391.5" r="3.2"/><circle cx="362.2" cy="358.6" r="3.0"/><circle cx="405.7" cy="400.4" r="3.8"/><circle cx="301.9" cy="332.7" r="4.0"/><circle cx="298.0" cy="343.7" r="4.2"/><circle cx="394.2" cy="417.1" r="2.0"/><circle cx="386.6" cy="362.7" r="4.4"/><circle cx="415.1" cy="388.9" r="3.0"/><circle cx="264.5" cy="401.9" r="3.2"/><circle cx="310.3" cy="387.7" r="2.4"/><circle cx="347.0" cy="375.5" r="2.2"/><circle cx="353.6" cy="408.0" r="3.2"/><circle cx="408.8" cy="422.7" r="3.6"/><circle cx="406.4" cy="364.2" r="3.8"/><circle cx="431.5" cy="418.5" r="3.6"/><circle cx="376.4" cy="344.5" r="2.4"/><circle cx="392.0" cy="409.9" r="2.6"/><circle cx="324.3" cy="368.7" r="3.2"/><circle cx="343.2" cy="422.6" r="4.0"/><circle cx="303.6" cy="385.0" r="2.6"/><circle cx="306.9" cy="361.0" r="3.8"/><circle cx="274.8" cy="357.9" r="2.0"/><circle cx="421.4" cy="385.6" r="3.8"/><circle cx="330.2" cy="327.0" r="4.2"/><circle cx="389.3" cy="337.0" r="2.0"/><circle cx="364.6" cy="404.5" r="4.2"/><circle cx="424.7" cy="422.8" r="3.8"/><circle cx="276.4" cy="422.4" r="3.2"/><circle cx="266.8" cy="344.2" r="2.4"/><circle cx="335.7" cy="358.3" r="4.0"/><circle cx="308.5" cy="333.7" r="2.2"/><circle cx="362.9" cy="383.4" r="3.0"/><circle cx="424.5" cy="375.0" r="2.0"/><circle cx="312.1" cy="323.6" r="2.0"/><circle cx="380.0" cy="411.3" r="2.6"/><circle cx="284.5" cy="326.1" r="3.8"/><circle cx="276.4" cy="393.7" r="3.2"/><circle cx="433.3" cy="386.8" r="3.4"/><circle cx="419.8" cy="347.3" r="2.8"/><circle cx="283.5" cy="368.0" r="3.0"/><circle cx="330.9" cy="373.3" r="2.4"/><circle cx="323.8" cy="330.6" r="3.4"/><circle cx="417.9" cy="329.1" r="3.6"/><circle cx="311.7" cy="371.8" r="4.0"/><circle cx="370.0" cy="378.3" r="3.4"/><circle cx="380.1" cy="364.0" r="2.8"/><circle cx="398.8" cy="391.5" r="4.2"/><circle cx="378.8" cy="391.4" r="4.2"/><circle cx="402.7" cy="345.9" r="3.6"/><circle cx="337.8" cy="393.8" r="2.0"/><circle cx="345.1" cy="350.2" r="4.2"/><circle cx="319.2" cy="411.1" r="2.2"/><circle cx="364.3" cy="345.3" r="3.4"/><circle cx="405.6" cy="340.1" r="3.4"/><circle cx="316.7" cy="355.2" r="2.0"/><circle cx="292.1" cy="405.6" r="2.6"/><circle cx="289.8" cy="369.9" r="3.0"/><circle cx="430.6" cy="330.4" r="4.0"/><circle cx="426.6" cy="405.4" r="3.8"/><circle cx="327.8" cy="359.3" r="4.4"/><circle cx="299.4" cy="322.3" r="4.0"/><circle cx="430.5" cy="372.4" r="2.2"/><circle cx="273.5" cy="329.0" r="4.0"/><circle cx="268.3" cy="353.3" r="4.0"/><circle cx="426.0" cy="357.6" r="4.2"/><circle cx="391.2" cy="354.7" r="2.6"/><circle cx="425.7" cy="343.0" r="4.4"/><circle cx="382.4" cy="323.8" r="3.2"/><circle cx="407.0" cy="349.8" r="4.0"/><circle cx="301.9" cy="415.8" r="4.2"/><circle cx="430.6" cy="335.7" r="3.8"/><circle cx="354.8" cy="423.0" r="4.0"/></g><g fill="#f02030" fill-opacity="0.9" filter="url(#bs)"><circle cx="393.7" cy="324.4" r="1.3"/><circle cx="424.4" cy="352.0" r="1.1"/><circle cx="272.9" cy="387.1" r="1.6"/><circle cx="373.2" cy="337.6" r="2.1"/><circle cx="404.2" cy="357.7" r="2.0"/><circle cx="273.9" cy="371.6" r="2.0"/><circle cx="290.2" cy="411.4" r="0.9"/><circle cx="329.9" cy="418.0" r="1.0"/><circle cx="321.6" cy="341.9" r="1.6"/><circle cx="329.0" cy="350.1" r="2.0"/><circle cx="270.9" cy="421.4" r="1.6"/><circle cx="363.7" cy="364.4" r="1.4"/><circle cx="309.4" cy="395.7" r="1.0"/><circle cx="409.2" cy="405.7" r="2.1"/><circle cx="321.6" cy="360.0" r="1.8"/><circle cx="368.7" cy="331.3" r="1.2"/><circle cx="359.2" cy="354.0" r="1.8"/><circle cx="281.6" cy="345.9" r="1.1"/><circle cx="270.0" cy="396.4" r="2.0"/><circle cx="367.5" cy="340.7" r="1.3"/><circle cx="303.4" cy="366.0" r="1.6"/><circle cx="345.7" cy="402.7" r="1.4"/><circle cx="422.3" cy="415.2" r="1.5"/><circle cx="342.3" cy="411.1" r="2.0"/><circle cx="281.9" cy="330.9" r="2.2"/><circle cx="396.1" cy="371.0" r="1.1"/><circle cx="426.5" cy="325.6" r="2.1"/><circle cx="326.5" cy="401.8" r="1.4"/><circle cx="300.1" cy="349.0" r="1.8"/><circle cx="297.6" cy="385.1" r="1.2"/><circle cx="415.4" cy="403.9" r="1.4"/><circle cx="351.2" cy="351.7" r="2.0"/><circle cx="284.2" cy="381.9" r="1.8"/><circle cx="340.7" cy="331.7" r="2.0"/><circle cx="369.3" cy="324.6" r="1.9"/><circle cx="368.0" cy="417.7" r="1.8"/><circle cx="316.9" cy="380.7" r="1.3"/><circle cx="374.7" cy="322.6" r="1.8"/><circle cx="298.8" cy="360.7" r="1.3"/><circle cx="384.8" cy="406.7" r="1.9"/><circle cx="278.0" cy="399.6" r="1.6"/><circle cx="296.7" cy="400.9" r="1.6"/><circle cx="316.8" cy="391.8" r="1.2"/><circle cx="393.3" cy="392.2" r="2.0"/><circle cx="382.0" cy="396.8" r="2.0"/><circle cx="270.7" cy="323.8" r="1.1"/><circle cx="267.1" cy="410.5" r="1.7"/><circle cx="385.3" cy="357.4" r="1.2"/><circle cx="369.3" cy="360.2" r="1.8"/><circle cx="302.5" cy="401.2" r="1.3"/><circle cx="398.4" cy="409.2" r="2.0"/><circle cx="353.3" cy="341.0" r="1.7"/><circle cx="326.8" cy="407.5" r="1.8"/><circle cx="295.2" cy="327.2" r="2.2"/><circle cx="321.0" cy="417.9" r="1.5"/><circle cx="301.2" cy="396.0" r="1.3"/><circle cx="362.2" cy="422.5" r="1.0"/><circle cx="288.2" cy="399.1" r="1.8"/><circle cx="295.1" cy="390.6" r="1.2"/><circle cx="419.1" cy="419.6" r="1.8"/><circle cx="433.5" cy="406.7" r="1.7"/><circle cx="346.2" cy="380.9" r="1.5"/><circle cx="357.4" cy="418.1" r="2.0"/><circle cx="339.5" cy="347.9" r="1.6"/><circle cx="300.1" cy="372.7" r="1.2"/><circle cx="415.2" cy="373.9" r="2.0"/><circle cx="374.6" cy="409.3" r="1.1"/><circle cx="354.8" cy="362.6" r="2.0"/><circle cx="335.6" cy="328.8" r="2.1"/><circle cx="309.1" cy="380.2" r="1.2"/><circle cx="396.4" cy="423.1" r="1.0"/><circle cx="369.1" cy="422.8" r="1.1"/><circle cx="298.7" cy="420.8" r="1.5"/><circle cx="304.3" cy="340.7" r="1.5"/><circle cx="265.3" cy="387.6" r="2.1"/><circle cx="387.0" cy="332.1" r="2.1"/><circle cx="381.7" cy="342.9" r="1.3"/><circle cx="299.0" cy="378.7" r="1.9"/><circle cx="421.0" cy="368.1" r="1.8"/><circle cx="357.3" cy="325.0" r="1.1"/><circle cx="275.3" cy="415.2" r="1.0"/><circle cx="363.7" cy="409.9" r="1.3"/><circle cx="410.5" cy="384.1" r="1.1"/><circle cx="337.5" cy="399.3" r="2.1"/><circle cx="378.0" cy="330.2" r="1.3"/><circle cx="386.4" cy="368.0" r="1.7"/><circle cx="331.4" cy="354.8" r="1.1"/><circle cx="304.8" cy="421.2" r="1.2"/><circle cx="371.7" cy="371.6" r="1.8"/><circle cx="354.9" cy="334.8" r="1.7"/><circle cx="306.2" cy="354.1" r="1.8"/><circle cx="358.0" cy="404.8" r="1.1"/><circle cx="377.8" cy="371.4" r="2.1"/><circle cx="369.6" cy="399.0" r="1.3"/><circle cx="350.9" cy="402.0" r="1.4"/><circle cx="422.8" cy="400.8" r="1.3"/><circle cx="406.0" cy="414.9" r="1.9"/><circle cx="365.8" cy="374.8" r="1.6"/><circle cx="342.1" cy="386.8" r="1.1"/><circle cx="286.5" cy="352.9" r="2.2"/><circle cx="429.2" cy="378.1" r="2.0"/><circle cx="369.4" cy="385.9" r="1.3"/><circle cx="363.4" cy="325.2" r="1.6"/><circle cx="418.9" cy="378.4" r="1.0"/><circle cx="324.1" cy="395.3" r="1.7"/><circle cx="419.3" cy="394.1" r="2.0"/><circle cx="411.5" cy="345.8" r="1.8"/><circle cx="280.1" cy="360.0" r="1.7"/><circle cx="357.4" cy="371.9" r="1.9"/><circle cx="347.1" cy="357.6" r="1.2"/><circle cx="397.0" cy="361.3" r="2.0"/><circle cx="311.2" cy="401.0" r="1.0"/><circle cx="271.0" cy="378.7" r="2.1"/><circle cx="396.2" cy="344.5" r="1.6"/><circle cx="283.9" cy="421.4" r="1.8"/><circle cx="359.4" cy="412.9" r="1.3"/><circle cx="427.3" cy="384.9" r="1.7"/><circle cx="274.0" cy="349.6" r="1.3"/><circle cx="329.1" cy="340.5" r="1.9"/><circle cx="276.9" cy="405.8" r="1.0"/><circle cx="320.8" cy="322.9" r="1.6"/><circle cx="431.5" cy="392.2" r="1.9"/><circle cx="333.9" cy="405.2" r="1.5"/><circle cx="390.6" cy="403.9" r="2.0"/><circle cx="288.1" cy="330.9" r="1.7"/><circle cx="420.5" cy="337.6" r="1.6"/><circle cx="417.0" cy="360.8" r="2.0"/><circle cx="263.9" cy="322.5" r="2.0"/><circle cx="349.9" cy="418.8" r="1.8"/><circle cx="429.7" cy="364.3" r="1.8"/><circle cx="385.5" cy="412.8" r="1.8"/><circle cx="407.7" cy="389.9" r="1.7"/><circle cx="405.7" cy="380.2" r="1.3"/><circle cx="423.3" cy="362.2" r="1.6"/><circle cx="387.2" cy="344.6" r="1.9"/><circle cx="379.2" cy="349.0" r="1.6"/><circle cx="334.6" cy="363.8" r="0.9"/><circle cx="323.1" cy="336.1" r="1.2"/><circle cx="412.1" cy="412.1" r="1.2"/><circle cx="296.8" cy="407.9" r="1.6"/><circle cx="282.3" cy="392.1" r="2.2"/><circle cx="358.9" cy="345.2" r="1.3"/><circle cx="353.0" cy="388.2" r="1.1"/><circle cx="344.9" cy="343.9" r="1.1"/><circle cx="388.5" cy="388.8" r="2.0"/><circle cx="329.5" cy="378.6" r="1.2"/><circle cx="279.6" cy="324.3" r="2.0"/><circle cx="346.8" cy="364.1" r="1.5"/><circle cx="318.4" cy="405.3" r="1.5"/><circle cx="341.5" cy="356.1" r="1.6"/><circle cx="341.8" cy="324.9" r="2.1"/><circle cx="382.0" cy="336.9" r="1.0"/><circle cx="337.3" cy="418.0" r="1.0"/><circle cx="304.9" cy="325.2" r="1.3"/><circle cx="293.2" cy="335.1" r="1.2"/><circle cx="323.9" cy="379.7" r="2.1"/><circle cx="314.5" cy="335.4" r="1.1"/><circle cx="426.6" cy="396.4" r="1.8"/><circle cx="334.0" cy="387.8" r="1.3"/><circle cx="342.4" cy="339.0" r="2.0"/><circle cx="267.8" cy="330.9" r="1.5"/><circle cx="313.1" cy="348.7" r="2.2"/><circle cx="335.8" cy="343.4" r="2.0"/><circle cx="383.7" cy="420.1" r="1.4"/><circle cx="290.1" cy="379.6" r="1.1"/><circle cx="431.5" cy="401.4" r="1.4"/><circle cx="276.4" cy="366.3" r="1.1"/><circle cx="275.1" cy="335.4" r="1.8"/><circle cx="401.2" cy="384.5" r="1.2"/><circle cx="326.5" cy="323.2" r="2.1"/><circle cx="393.4" cy="386.8" r="1.1"/><circle cx="408.7" cy="375.4" r="1.4"/><circle cx="376.4" cy="416.1" r="1.9"/><circle cx="329.8" cy="395.3" r="2.1"/><circle cx="316.4" cy="340.3" r="2.0"/><circle cx="397.5" cy="399.3" r="1.8"/><circle cx="391.3" cy="379.6" r="1.9"/><circle cx="429.3" cy="412.4" r="1.0"/><circle cx="366.3" cy="353.0" r="1.1"/><circle cx="310.6" cy="417.3" r="1.1"/><circle cx="345.2" cy="334.6" r="1.4"/><circle cx="345.6" cy="395.0" r="2.2"/><circle cx="313.1" cy="410.9" r="1.1"/><circle cx="286.3" cy="374.5" r="1.0"/><circle cx="349.3" cy="323.6" r="1.4"/><circle cx="402.6" cy="370.3" r="1.8"/><circle cx="388.4" cy="395.5" r="1.9"/><circle cx="410.3" cy="396.5" r="2.0"/><circle cx="360.5" cy="390.3" r="2.1"/><circle cx="403.1" cy="422.1" r="2.0"/><circle cx="285.4" cy="409.3" r="2.2"/><circle cx="352.8" cy="328.4" r="1.6"/><circle cx="379.9" cy="378.6" r="1.3"/><circle cx="375.0" cy="386.7" r="1.6"/><circle cx="313.9" cy="367.0" r="2.0"/><circle cx="293.0" cy="349.8" r="1.9"/><circle cx="277.5" cy="383.7" r="1.1"/><circle cx="334.7" cy="410.6" r="2.0"/><circle cx="347.4" cy="388.0" r="1.5"/><circle cx="288.4" cy="361.7" r="1.2"/><circle cx="399.8" cy="417.9" r="1.3"/><circle cx="371.8" cy="352.0" r="1.9"/><circle cx="335.3" cy="377.7" r="1.8"/><circle cx="268.7" cy="337.8" r="1.8"/><circle cx="279.4" cy="410.8" r="2.1"/><circle cx="346.7" cy="329.4" r="1.7"/><circle cx="321.0" cy="385.2" r="1.6"/><circle cx="370.5" cy="404.8" r="1.7"/><circle cx="318.8" cy="328.2" r="1.4"/><circle cx="295.3" cy="413.7" r="1.5"/><circle cx="306.0" cy="407.6" r="1.5"/><circle cx="268.9" cy="416.0" r="2.1"/><circle cx="361.7" cy="395.9" r="1.4"/><circle cx="296.8" cy="368.3" r="2.1"/><circle cx="362.4" cy="334.8" r="2.0"/><circle cx="304.7" cy="346.4" r="1.5"/><circle cx="391.6" cy="361.1" r="1.5"/><circle cx="288.4" cy="340.3" r="1.9"/><circle cx="361.0" cy="377.1" r="1.0"/><circle cx="265.2" cy="376.4" r="1.7"/><circle cx="283.9" cy="414.6" r="1.2"/><circle cx="268.1" cy="370.0" r="1.9"/><circle cx="356.6" cy="397.7" r="1.8"/><circle cx="270.9" cy="363.8" r="2.0"/><circle cx="278.5" cy="339.7" r="1.1"/><circle cx="386.8" cy="375.0" r="1.9"/><circle cx="429.0" cy="349.1" r="1.2"/><circle cx="328.0" cy="390.2" r="1.0"/><circle cx="390.2" cy="422.8" r="2.1"/><circle cx="291.7" cy="420.4" r="1.1"/><circle cx="412.0" cy="364.2" r="1.2"/><circle cx="381.1" cy="384.7" r="1.3"/><circle cx="404.5" cy="394.4" r="1.5"/><circle cx="415.0" cy="352.4" r="1.1"/><circle cx="399.7" cy="336.9" r="1.1"/><circle cx="312.9" cy="359.5" r="1.2"/><circle cx="369.6" cy="411.4" r="1.9"/><circle cx="349.8" cy="369.5" r="1.9"/><circle cx="331.2" cy="333.7" r="2.1"/><circle cx="410.1" cy="326.0" r="1.4"/><circle cx="400.0" cy="328.5" r="1.3"/><circle cx="409.1" cy="354.8" r="1.3"/><circle cx="433.4" cy="351.9" r="1.6"/><circle cx="433.6" cy="357.9" r="2.1"/><circle cx="307.4" cy="413.0" r="1.1"/><circle cx="433.7" cy="341.6" r="1.3"/><circle cx="372.7" cy="364.7" r="2.0"/><circle cx="290.5" cy="393.9" r="1.5"/><circle cx="339.7" cy="365.4" r="1.2"/><circle cx="423.8" cy="391.0" r="2.2"/><circle cx="288.6" cy="386.0" r="1.4"/><circle cx="374.7" cy="357.6" r="2.1"/><circle cx="304.9" cy="390.8" r="2.0"/><circle cx="320.6" cy="351.4" r="1.9"/><circle cx="271.8" cy="408.0" r="1.0"/><circle cx="414.2" cy="339.8" r="1.5"/><circle cx="316.7" cy="397.4" r="1.5"/><circle cx="280.4" cy="373.1" r="1.2"/><circle cx="369.0" cy="391.5" r="1.6"/><circle cx="362.2" cy="358.6" r="1.5"/><circle cx="405.7" cy="400.4" r="1.9"/><circle cx="301.9" cy="332.7" r="2.0"/><circle cx="298.0" cy="343.7" r="2.1"/><circle cx="394.2" cy="417.1" r="1.0"/><circle cx="386.6" cy="362.7" r="2.2"/><circle cx="415.1" cy="388.9" r="1.5"/><circle cx="264.5" cy="401.9" r="1.6"/><circle cx="310.3" cy="387.7" r="1.2"/><circle cx="347.0" cy="375.5" r="1.1"/><circle cx="353.6" cy="408.0" r="1.6"/><circle cx="408.8" cy="422.7" r="1.8"/><circle cx="406.4" cy="364.2" r="1.9"/><circle cx="431.5" cy="418.5" r="1.8"/><circle cx="376.4" cy="344.5" r="1.2"/><circle cx="392.0" cy="409.9" r="1.3"/><circle cx="324.3" cy="368.7" r="1.6"/><circle cx="343.2" cy="422.6" r="2.0"/><circle cx="303.6" cy="385.0" r="1.3"/><circle cx="306.9" cy="361.0" r="1.9"/><circle cx="274.8" cy="357.9" r="1.0"/><circle cx="421.4" cy="385.6" r="1.9"/><circle cx="330.2" cy="327.0" r="2.1"/><circle cx="389.3" cy="337.0" r="1.0"/><circle cx="364.6" cy="404.5" r="2.1"/><circle cx="424.7" cy="422.8" r="1.9"/><circle cx="276.4" cy="422.4" r="1.6"/><circle cx="266.8" cy="344.2" r="1.2"/><circle cx="335.7" cy="358.3" r="2.0"/><circle cx="308.5" cy="333.7" r="1.1"/><circle cx="362.9" cy="383.4" r="1.5"/><circle cx="424.5" cy="375.0" r="1.0"/><circle cx="312.1" cy="323.6" r="1.0"/><circle cx="380.0" cy="411.3" r="1.3"/><circle cx="284.5" cy="326.1" r="1.9"/><circle cx="276.4" cy="393.7" r="1.6"/><circle cx="433.3" cy="386.8" r="1.7"/><circle cx="419.8" cy="347.3" r="1.4"/><circle cx="283.5" cy="368.0" r="1.5"/><circle cx="330.9" cy="373.3" r="1.2"/><circle cx="323.8" cy="330.6" r="1.7"/><circle cx="417.9" cy="329.1" r="1.8"/><circle cx="311.7" cy="371.8" r="2.0"/><circle cx="370.0" cy="378.3" r="1.7"/><circle cx="380.1" cy="364.0" r="1.4"/><circle cx="398.8" cy="391.5" r="2.1"/><circle cx="378.8" cy="391.4" r="2.1"/><circle cx="402.7" cy="345.9" r="1.8"/><circle cx="337.8" cy="393.8" r="1.0"/><circle cx="345.1" cy="350.2" r="2.1"/><circle cx="319.2" cy="411.1" r="1.1"/><circle cx="364.3" cy="345.3" r="1.7"/><circle cx="405.6" cy="340.1" r="1.7"/><circle cx="316.7" cy="355.2" r="1.0"/><circle cx="292.1" cy="405.6" r="1.3"/><circle cx="289.8" cy="369.9" r="1.5"/><circle cx="430.6" cy="330.4" r="2.0"/><circle cx="426.6" cy="405.4" r="1.9"/><circle cx="327.8" cy="359.3" r="2.2"/><circle cx="299.4" cy="322.3" r="2.0"/><circle cx="430.5" cy="372.4" r="1.1"/><circle cx="273.5" cy="329.0" r="2.0"/><circle cx="268.3" cy="353.3" r="2.0"/><circle cx="426.0" cy="357.6" r="2.1"/><circle cx="391.2" cy="354.7" r="1.3"/><circle cx="425.7" cy="343.0" r="2.2"/><circle cx="382.4" cy="323.8" r="1.6"/><circle cx="407.0" cy="349.8" r="2.0"/><circle cx="301.9" cy="415.8" r="2.1"/><circle cx="430.6" cy="335.7" r="1.9"/><circle cx="354.8" cy="423.0" r="2.0"/></g></g><g fill="#fff" stroke="#555" stroke-width="1.6"><rect x="92" y="91.6" width="165.5" height="20.4"/><rect x="265" y="92" width="167.5" height="21"/><rect x="68.6" y="114.5" width="20.6" height="100"/><rect x="68.6" y="220.5" width="20.2" height="98"/><rect x="68.6" y="323" width="20.4" height="99.5"/></g><rect x="269.5" y="416" width="28.5" height="3.5" fill="#fff"/><g stroke="#222" stroke-width="2" fill="none"><line x1="614.5" y1="114.5" x2="614.5" y2="372.5"/><line x1="602" y1="371.5" x2="614.5" y2="371.5"/><line x1="602" y1="307.5" x2="614.5" y2="307.5"/><line x1="602" y1="243.5" x2="614.5" y2="243.5"/><line x1="602" y1="179.5" x2="614.5" y2="179.5"/><line x1="602" y1="115.5" x2="614.5" y2="115.5"/></g><line x1="614" y1="332" x2="1042.5" y2="332" stroke="#a0a0a0" stroke-width="2.2"/><line x1="643.65" y1="329.5" x2="643.65" y2="329.5" stroke="#222" stroke-width="2"/><line x1="637.15" y1="329.5" x2="650.15" y2="329.5" stroke="#222" stroke-width="2.4"/><rect x="630.5" y="330.5" width="26.299999999999955" height="40.0" fill="#fbc864" stroke="#1a1408" stroke-width="2"/><line x1="676.85" y1="358.9" x2="676.85" y2="361" stroke="#222" stroke-width="2"/><line x1="670.35" y1="358.9" x2="683.35" y2="358.9" stroke="#222" stroke-width="2.4"/><rect x="663.7" y="362" width="26.299999999999955" height="8.5" fill="#143f82" stroke="#1a1408" stroke-width="2"/><line x1="731.6" y1="310.9" x2="731.6" y2="320" stroke="#222" stroke-width="2"/><line x1="725.1" y1="310.9" x2="738.1" y2="310.9" stroke="#222" stroke-width="2.4"/><rect x="718.6" y="321" width="26.0" height="49.5" fill="#fbc864" stroke="#1a1408" stroke-width="2"/><line x1="764.7" y1="343" x2="764.7" y2="350.5" stroke="#222" stroke-width="2"/><line x1="758.2" y1="343" x2="771.2" y2="343" stroke="#222" stroke-width="2.4"/><rect x="751.9" y="351.5" width="25.600000000000023" height="19.0" fill="#143f82" stroke="#1a1408" stroke-width="2"/><line x1="819.55" y1="300.6" x2="819.55" y2="309.5" stroke="#222" stroke-width="2"/><line x1="813.05" y1="300.6" x2="826.05" y2="300.6" stroke="#222" stroke-width="2.4"/><rect x="806.7" y="310.5" width="25.699999999999932" height="60.0" fill="#fbc864" stroke="#1a1408" stroke-width="2"/><line x1="852.5" y1="336" x2="852.5" y2="339.6" stroke="#222" stroke-width="2"/><line x1="846.0" y1="336" x2="859.0" y2="336" stroke="#222" stroke-width="2.4"/><rect x="839.7" y="340.6" width="25.59999999999991" height="29.899999999999977" fill="#143f82" stroke="#1a1408" stroke-width="2"/><line x1="907.5" y1="243.1" x2="907.5" y2="251.2" stroke="#222" stroke-width="2"/><line x1="901.0" y1="243.1" x2="914.0" y2="243.1" stroke="#222" stroke-width="2.4"/><rect x="894.7" y="252.2" width="25.59999999999991" height="118.30000000000001" fill="#fbc864" stroke="#1a1408" stroke-width="2"/><line x1="940.8" y1="291.6" x2="940.8" y2="304" stroke="#222" stroke-width="2"/><line x1="934.3" y1="291.6" x2="947.3" y2="291.6" stroke="#222" stroke-width="2.4"/><rect x="927.6" y="305" width="26.399999999999977" height="65.5" fill="#143f82" stroke="#1a1408" stroke-width="2"/><line x1="994.8" y1="213" x2="994.8" y2="221.9" stroke="#222" stroke-width="2"/><line x1="988.3" y1="213" x2="1001.3" y2="213" stroke="#222" stroke-width="2.4"/><rect x="981.8" y="222.9" width="26.0" height="147.6" fill="#fbc864" stroke="#1a1408" stroke-width="2"/><line x1="1028.2" y1="220.4" x2="1028.2" y2="224.7" stroke="#222" stroke-width="2"/><line x1="1021.7" y1="220.4" x2="1034.7" y2="220.4" stroke="#222" stroke-width="2.4"/><rect x="1015" y="225.7" width="26.40000000000009" height="144.8" fill="#143f82" stroke="#1a1408" stroke-width="2"/><line x1="639.3" y1="314.9" x2="683.4" y2="314.9" stroke="#222" stroke-width="2.3"/><line x1="727.5" y1="290.7" x2="770.4" y2="290.7" stroke="#333" stroke-width="2.3"/><line x1="816.7" y1="281.9" x2="859.2" y2="281.9" stroke="#333" stroke-width="2.3"/><line x1="905.5" y1="226.2" x2="948.8" y2="226.2" stroke="#555" stroke-width="2.3"/><g stroke="#222" stroke-width="2"><line x1="698.2" y1="91.5" x2="906.4" y2="91.5"/><line x1="698.2" y1="81.5" x2="698.2" y2="101.5"/><line x1="742" y1="81.5" x2="742" y2="101.5"/><line x1="783.9" y1="81.5" x2="783.9" y2="101.5"/><line x1="796.8" y1="81.5" x2="796.8" y2="101.5"/><line x1="807.8" y1="81.5" x2="807.8" y2="101.5"/><line x1="818.4" y1="81.5" x2="818.4" y2="101.5"/><line x1="860" y1="81.5" x2="860" y2="101.5"/><line x1="906.4" y1="81.5" x2="906.4" y2="101.5"/></g><path id="st659" d="M659.80,303.60L659.80,298.80M659.80,303.60L664.37,302.12M659.80,303.60L662.62,307.48M659.80,303.60L656.98,307.48M659.80,303.60L655.23,302.12" stroke="#e2187c" stroke-width="3.0" stroke-linecap="round" fill="none"/><path id="st749" d="M749.50,279.00L749.50,274.20M749.50,279.00L754.07,277.52M749.50,279.00L752.32,282.88M749.50,279.00L746.68,282.88M749.50,279.00L744.93,277.52" stroke="#e2187c" stroke-width="3.0" stroke-linecap="round" fill="none"/><path id="st839" d="M839.70,266.00L839.70,261.20M839.70,266.00L844.27,264.52M839.70,266.00L842.52,269.88M839.70,266.00L836.88,269.88M839.70,266.00L835.13,264.52" stroke="#e2187c" stroke-width="3.0" stroke-linecap="round" fill="none"/><path id="st906" d="M906.80,209.90L906.80,205.10M906.80,209.90L911.37,208.42M906.80,209.90L909.62,213.78M906.80,209.90L903.98,213.78M906.80,209.90L902.23,208.42" stroke="#e2187c" stroke-width="3.0" stroke-linecap="round" fill="none"/><path id="st919" d="M919.60,209.90L919.60,205.10M919.60,209.90L924.17,208.42M919.60,209.90L922.42,213.78M919.60,209.90L916.78,213.78M919.60,209.90L915.03,208.42" stroke="#e2187c" stroke-width="3.0" stroke-linecap="round" fill="none"/><path id="st932" d="M932.50,209.90L932.50,205.10M932.50,209.90L937.07,208.42M932.50,209.90L935.32,213.78M932.50,209.90L929.68,213.78M932.50,209.90L927.93,208.42" stroke="#e2187c" stroke-width="3.0" stroke-linecap="round" fill="none"/><path id="st945" d="M945.30,209.90L945.30,205.10M945.30,209.90L949.87,208.42M945.30,209.90L948.12,213.78M945.30,209.90L942.48,213.78M945.30,209.90L940.73,208.42" stroke="#e2187c" stroke-width="3.0" stroke-linecap="round" fill="none"/><path d="M740.9,143 L744.5,132.5 L748.1,143" stroke="#c8407a" stroke-width="2" fill="none"/><path d="M753.4,143 L757,132.5 L760.6,143" stroke="#c8407a" stroke-width="2" fill="none"/><path d="M765.9,143 L769.5,132.5 L773.1,143" stroke="#c8407a" stroke-width="2" fill="none"/><text id="t1" x="40" y="43" font-size="23" fill="#111" font-weight="bold">A</text><text id="t2" x="82.80" y="60" font-size="15" fill="#c42e66" textLength="61.40" lengthAdjust="spacingAndGlyphs" >Microglial</text><text id="t3" x="147.10" y="60" font-size="15" fill="#c42e66" textLength="88.00" lengthAdjust="spacingAndGlyphs" font-weight="bold" fill-opacity="1">repopulation</text><text id="t4" x="236.60" y="60" font-size="15" fill="#c42e66" textLength="13.50" lengthAdjust="spacingAndGlyphs" >in</text><text id="t5" x="257.20" y="60" font-size="15" fill="#c42e66" textLength="21.20" lengthAdjust="spacingAndGlyphs" >CX</text><text id="t6" x="277.58" y="65.2" font-size="7" fill="#c42e66" textLength="4.74" lengthAdjust="spacingAndGlyphs" >3</text><text id="t7" x="281.40" y="60" font-size="15" fill="#c42e66" textLength="22.10" lengthAdjust="spacingAndGlyphs" >CR</text><text id="t8" x="303.58" y="65.2" font-size="7" fill="#c42e66" textLength="3.84" lengthAdjust="spacingAndGlyphs" >1</text><text id="t9" x="307.10" y="60" font-size="15" fill="#c42e66" textLength="20.80" lengthAdjust="spacingAndGlyphs" >cre</text><text id="t10" x="327.41" y="55.6" font-size="6.5" fill="#c42e66" textLength="21.48" lengthAdjust="spacingAndGlyphs" >ERT2</text><text id="t11" x="348.10" y="60" font-size="15" fill="#c42e66" textLength="48.80" lengthAdjust="spacingAndGlyphs" >xiDTRx</text><text id="t12" x="82.80" y="78.2" font-size="15" fill="#c42e66" textLength="93.90" lengthAdjust="spacingAndGlyphs" >tdTomato mice</text><text id="t13" x="150" y="107.3" font-size="15" fill="#ecbd72" textLength="46" lengthAdjust="spacingAndGlyphs" >Vehicle</text><text id="t14" x="341" y="107.5" font-size="16" fill="#2e5c8c" >DT</text><text id="t15" x="349" y="134.7" font-size="20" fill="#e8201c" textLength="78" lengthAdjust="spacingAndGlyphs" >tdTomato</text><text id="t16" x="454.5" y="65.7" font-size="36" fill="#111" font-weight="bold">B</text><text id="tick0" x="592" y="384.3" font-size="31" fill="#111" stroke="#111" stroke-width="0.45" text-anchor="end" textLength="16.5" lengthAdjust="spacingAndGlyphs">0</text><text id="tick500" x="592" y="320.3" font-size="31" fill="#111" stroke="#111" stroke-width="0.45" text-anchor="end" textLength="49" lengthAdjust="spacingAndGlyphs">500</text><text id="tick1000" x="592" y="256.3" font-size="31" fill="#111" stroke="#111" stroke-width="0.45" text-anchor="end" textLength="65" lengthAdjust="spacingAndGlyphs">1000</text><text id="tick1500" x="592" y="192.3" font-size="31" fill="#111" stroke="#111" stroke-width="0.45" text-anchor="end" textLength="65" lengthAdjust="spacingAndGlyphs">1500</text><text id="tick2000" x="592" y="128.3" font-size="31" fill="#111" stroke="#111" stroke-width="0.45" text-anchor="end" textLength="65" lengthAdjust="spacingAndGlyphs">2000</text><text id="xl658" x="658.5" y="403.5" font-size="31" fill="#111" stroke="#111" stroke-width="0.45" text-anchor="middle">0.25</text><text id="xl732" x="732.5" y="403.5" font-size="31" fill="#111" stroke="#111" stroke-width="0.45" text-anchor="middle">2</text><text id="xl820" x="820.5" y="403.5" font-size="31" fill="#111" stroke="#111" stroke-width="0.45" text-anchor="middle">3</text><text id="xl914" x="913.5" y="403.5" font-size="31" fill="#111" stroke="#111" stroke-width="0.45" text-anchor="middle">5</text><text id="xl1019" x="1018.7" y="403.5" font-size="31" fill="#111" stroke="#111" stroke-width="0.45" text-anchor="middle">12 d</text><text id="t17" x="769" y="76.6" font-size="19" fill="#111" >TBI</text><text id="t18" x="676" y="123.5" font-size="19" fill="#111" textLength="41" lengthAdjust="spacingAndGlyphs" >-42d</text><text id="t19" x="739.3" y="123.5" font-size="19" fill="#111" textLength="28" lengthAdjust="spacingAndGlyphs" >-3d</text><text id="t20" x="777.5" y="123.5" font-size="19" fill="#111" textLength="22" lengthAdjust="spacingAndGlyphs" >0d</text><text id="t21" x="877" y="123.5" font-size="19" fill="#111" textLength="32" lengthAdjust="spacingAndGlyphs" >12d</text><text id="t22" x="686" y="144.3" font-size="19" fill="#c8407a" textLength="31.5" lengthAdjust="spacingAndGlyphs" >CO</text><text id="t23" x="687" y="167.5" font-size="19" fill="#666" font-style="italic">or</text><text id="t24" x="687" y="194" font-size="19" fill="#c8407a" textLength="41" lengthAdjust="spacingAndGlyphs" >TAM</text><text id="t25" x="745.5" y="165.3" font-size="19" fill="#c8407a" textLength="28.5" lengthAdjust="spacingAndGlyphs" >DT</text><g id="ytitle" fill="#111" stroke="#111" stroke-width="0.45"><text transform="translate(519.5,361.5) rotate(-90)" font-size="32">tdTomato</text><text id="suppos" transform="translate(502,229.5) rotate(-90)" font-size="24">pos</text><text id="slmm" transform="translate(519.5,182.8) rotate(-90)" font-size="31">/mm</text><text id="sup2" transform="translate(502.7,121) rotate(-90)" font-size="22">2</text></g><text id="day1" transform="translate(82.8,193.5) rotate(-90)" font-size="15" fill="#222">day 1</text><text id="day3" transform="translate(82.8,289.2) rotate(-90)" font-size="15" fill="#222">day 3</text><text id="day12" transform="translate(82.8,388.4) rotate(-90)" font-size="15" fill="#222">day 12</text><g id="wm"><g stroke="#b4b4b4" stroke-width="1.3" fill="#fff"><path d="M871.5,411.5 L869.5,414.5 L875,412 A10.8,9.2 0 1 0 871.5,411.5 Z"/><circle cx="874.6" cy="393.6" r="1.1" fill="#bbb" stroke="none"/><circle cx="886.2" cy="393.6" r="1.1" fill="#bbb" stroke="none"/><path d="M899.5,418.2 L903.5,420.2 L902.5,416.5 A12.2,10.4 0 1 0 899.5,418.2 Z"/><circle cx="890.3" cy="403" r="1.1" fill="#bbb" stroke="none"/><circle cx="899.3" cy="403" r="1.1" fill="#bbb" stroke="none"/></g><g transform="translate(916.5,394) scale(1,0.98) skewX(-6)" fill="none" stroke-linecap="square" stroke-linejoin="miter"><path d="M2,2 L22,2 M12,2 L9.5,7 M5,7 L5,22.5 M5,7 L19,7 L19,22.5 M5,14.5 L19,14.5 M5,22 L19,22" stroke="#b8b8b8" stroke-width="4.2"/><path d="M2,2 L22,2 M12,2 L9.5,7 M5,7 L5,22.5 M5,7 L19,7 L19,22.5 M5,14.5 L19,14.5 M5,22 L19,22" stroke="#ffffff" stroke-width="2.4"/></g><g transform="translate(940,394) scale(1,0.98) skewX(-6)" fill="none" stroke-linecap="square" stroke-linejoin="miter"><path d="M9,3 L23,3 M14.5,3 C14.5,9 13,14 9.5,17 M14,9 L21,9 C21,13 20.5,16 18.5,17 M2.5,2 L4.5,4.5 M1,8.5 L5,8.5 L5,16 L1.5,19.5 M5,17 C8,21 13,21.5 23,21.5" stroke="#b8b8b8" stroke-width="4.2"/><path d="M9,3 L23,3 M14.5,3 C14.5,9 13,14 9.5,17 M14,9 L21,9 C21,13 20.5,16 18.5,17 M2.5,2 L4.5,4.5 M1,8.5 L5,8.5 L5,16 L1.5,19.5 M5,17 C8,21 13,21.5 23,21.5" stroke="#ffffff" stroke-width="2.4"/></g><g transform="translate(967,394) scale(1,0.98) skewX(-6)" fill="none" stroke-linecap="square" stroke-linejoin="miter"><path d="M12,0 L12,3 M2.5,6.5 L2.5,3.5 L21.5,3.5 L21.5,6.5 M9.5,5.5 L5.5,10.5 M8.5,8 L17.5,8 C15,11 10,13.5 5,14.5 M10.5,10 C13,12 17,13.5 21,14 M7,15.5 L7,22.5 M7,15.5 L17,15.5 L17,22.5 M7,22 L17,22" stroke="#b8b8b8" stroke-width="4.2"/><path d="M12,0 L12,3 M2.5,6.5 L2.5,3.5 L21.5,3.5 L21.5,6.5 M9.5,5.5 L5.5,10.5 M8.5,8 L17.5,8 C15,11 10,13.5 5,14.5 M10.5,10 C13,12 17,13.5 21,14 M7,15.5 L7,22.5 M7,15.5 L17,15.5 L17,22.5 M7,22 L17,22" stroke="#ffffff" stroke-width="2.4"/></g><g transform="translate(994,394) scale(1,0.98) skewX(-6)" fill="none" stroke-linecap="square" stroke-linejoin="miter"><path d="M3,3 L21,3 M3,3 L3,22 M3,22 L22,22 M8.5,5.5 L6.5,9.5 M7.5,8.5 L17.5,8.5 M5,13 L19,13 M12.5,6 L12,13 C11,16 9,18.5 6,20 M12.5,13.5 L18,19.5" stroke="#b8b8b8" stroke-width="4.2"/><path d="M3,3 L21,3 M3,3 L3,22 M3,22 L22,22 M8.5,5.5 L6.5,9.5 M7.5,8.5 L17.5,8.5 M5,13 L19,13 M12.5,6 L12,13 C11,16 9,18.5 6,20 M12.5,13.5 L18,19.5" stroke="#ffffff" stroke-width="2.4"/></g><g transform="translate(1020,394) scale(1,0.98) skewX(-6)" fill="none" stroke-linecap="square" stroke-linejoin="miter"><path d="M6,1 L7.5,4 M11.5,0 L12.5,3 M17.5,0.5 L16,4 M2.5,7.5 L2.5,5 L21.5,5 L21.5,7.5 M7,9 L16.5,9 L12.5,12 M12.5,12 L12.5,22 L10,21 M2,15.5 L22,15.5" stroke="#b8b8b8" stroke-width="4.2"/><path d="M6,1 L7.5,4 M11.5,0 L12.5,3 M17.5,0.5 L16,4 M2.5,7.5 L2.5,5 L21.5,5 L21.5,7.5 M7,9 L16.5,9 L12.5,12 M12.5,12 L12.5,22 L10,21 M2,15.5 L22,15.5" stroke="#ffffff" stroke-width="2.4"/></g></g></svg></body></html>
